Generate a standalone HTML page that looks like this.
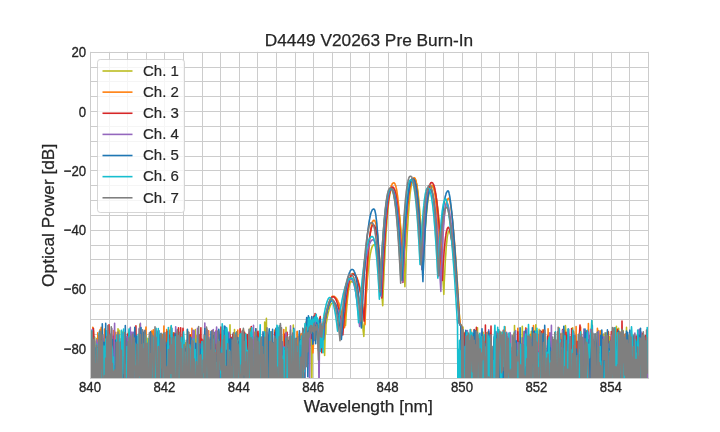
<!DOCTYPE html>
<html><head><meta charset="utf-8"><style>
html,body{margin:0;padding:0;background:#fff;}
svg{display:block;will-change:transform;font-family:"Liberation Sans",sans-serif;}
</style></head><body>
<svg width="720" height="432" viewBox="0 0 720 432">
<rect x="0" y="0" width="720" height="432" fill="#fff"/><path d="M90.5 51.84V378.00M109.5 51.84V378.00M127.5 51.84V378.00M146.5 51.84V378.00M164.5 51.84V378.00M183.5 51.84V378.00M202.5 51.84V378.00M220.5 51.84V378.00M239.5 51.84V378.00M257.5 51.84V378.00M276.5 51.84V378.00M295.5 51.84V378.00M313.5 51.84V378.00M332.5 51.84V378.00M350.5 51.84V378.00M369.5 51.84V378.00M388.5 51.84V378.00M406.5 51.84V378.00M425.5 51.84V378.00M443.5 51.84V378.00M462.5 51.84V378.00M481.5 51.84V378.00M499.5 51.84V378.00M518.5 51.84V378.00M536.5 51.84V378.00M555.5 51.84V378.00M574.5 51.84V378.00M592.5 51.84V378.00M611.5 51.84V378.00M629.5 51.84V378.00M648.5 51.84V378.00M90.0 52.5H648.0M90.0 67.5H648.0M90.0 81.5H648.0M90.0 96.5H648.0M90.0 111.5H648.0M90.0 126.5H648.0M90.0 141.5H648.0M90.0 156.5H648.0M90.0 170.5H648.0M90.0 185.5H648.0M90.0 200.5H648.0M90.0 215.5H648.0M90.0 230.5H648.0M90.0 245.5H648.0M90.0 259.5H648.0M90.0 274.5H648.0M90.0 289.5H648.0M90.0 304.5H648.0M90.0 319.5H648.0M90.0 334.5H648.0M90.0 348.5H648.0M90.0 363.5H648.0M90.0 378.5H648.0" stroke="#cccccc" stroke-width="1" fill="none"/><clipPath id="ax"><rect x="90.0" y="51.84" width="558.0" height="326.15999999999997"/></clipPath><g clip-path="url(#ax)"><path d="M90.0 348.0L90.6 392.0L91.1 338.8L91.7 351.8L92.2 392.0L92.8 365.8L93.4 330.6L93.9 392.0L94.5 336.8L95.0 352.1L95.6 348.6L96.2 361.6L96.7 338.6L97.3 382.3L97.8 346.4L98.4 369.5L99.0 353.7L99.5 390.4L100.1 367.3L100.6 352.0L101.2 392.0L101.8 392.0L102.3 367.0L102.9 392.0L103.4 379.0L104.0 340.9L104.6 352.3L105.1 347.3L105.7 378.0L106.2 337.6L106.8 343.9L107.4 390.3L107.9 392.0L108.5 368.3L109.0 361.7L109.6 390.8L110.2 392.0L110.7 389.2L111.3 392.0L111.8 354.7L112.4 392.0L113.0 391.6L113.5 341.5L114.1 372.7L114.6 334.9L115.2 392.0L115.8 344.9L116.3 335.6L116.9 369.4L117.4 392.0L118.0 328.8L118.6 357.4L119.1 330.4L119.7 392.0L120.2 357.0L120.8 392.0L121.4 330.9L121.9 360.8L122.5 392.0L123.0 332.0L123.6 365.8L124.2 340.6L124.7 336.3L125.3 369.6L125.8 349.4L126.4 392.0L127.0 348.8L127.5 392.0L128.1 362.8L128.6 332.2L129.2 360.4L129.8 392.0L130.3 358.0L130.9 392.0L131.4 362.3L132.0 391.7L132.6 372.5L133.1 367.2L133.7 374.1L134.2 392.0L134.8 390.6L135.4 392.0L135.9 358.0L136.5 380.3L137.0 359.1L137.6 392.0L138.2 392.0L138.7 355.6L139.3 381.4L139.8 324.4L140.4 328.8L141.0 392.0L141.5 353.6L142.1 392.0L142.6 373.8L143.2 392.0L143.8 371.5L144.3 392.0L144.9 392.0L145.4 392.0L146.0 339.1L146.6 340.7L147.1 338.3L147.7 369.7L148.2 392.0L148.8 392.0L149.4 336.3L149.9 353.3L150.5 357.0L151.0 392.0L151.6 371.7L152.2 392.0L152.7 344.6L153.3 392.0L153.8 384.4L154.4 349.5L155.0 392.0L155.5 392.0L156.1 392.0L156.6 392.0L157.2 332.8L157.8 376.3L158.3 361.5L158.9 348.8L159.4 392.0L160.0 392.0L160.6 338.0L161.1 392.0L161.7 338.3L162.2 349.5L162.8 376.7L163.4 392.0L163.9 340.1L164.5 392.0L165.0 335.6L165.6 392.0L166.2 380.0L166.7 390.5L167.3 370.8L167.8 392.0L168.4 392.0L169.0 392.0L169.5 335.4L170.1 333.1L170.6 392.0L171.2 343.0L171.8 354.3L172.3 360.5L172.9 352.3L173.4 332.7L174.0 392.0L174.6 333.4L175.1 392.0L175.7 392.0L176.2 340.4L176.8 392.0L177.4 350.9L177.9 392.0L178.5 392.0L179.0 344.9L179.6 332.6L180.2 388.4L180.7 346.0L181.3 355.7L181.8 343.8L182.4 392.0L183.0 354.2L183.5 378.5L184.1 356.8L184.6 361.7L185.2 353.9L185.8 342.7L186.3 392.0L186.9 392.0L187.4 329.9L188.0 348.5L188.6 337.1L189.1 392.0L189.7 392.0L190.2 341.7L190.8 337.9L191.4 350.0L191.9 361.4L192.5 392.0L193.0 385.8L193.6 367.7L194.2 367.9L194.7 356.6L195.3 329.5L195.8 384.5L196.4 335.9L197.0 392.0L197.5 392.0L198.1 340.0L198.6 369.2L199.2 350.6L199.8 392.0L200.3 349.7L200.9 353.5L201.4 389.4L202.0 349.7L202.6 372.1L203.1 390.2L203.7 368.3L204.2 392.0L204.8 372.7L205.4 347.0L205.9 392.0L206.5 362.3L207.0 392.0L207.6 340.6L208.2 392.0L208.7 366.6L209.3 392.0L209.8 356.1L210.4 346.7L211.0 374.8L211.5 389.4L212.1 347.2L212.6 392.0L213.2 339.3L213.8 392.0L214.3 392.0L214.9 392.0L215.4 336.9L216.0 392.0L216.6 386.9L217.1 392.0L217.7 392.0L218.2 344.1L218.8 392.0L219.4 378.5L219.9 369.0L220.5 346.2L221.0 343.7L221.6 378.3L222.2 334.6L222.7 372.2L223.3 392.0L223.8 377.9L224.4 392.0L225.0 392.0L225.5 352.4L226.1 370.4L226.6 366.8L227.2 377.5L227.8 336.5L228.3 358.6L228.9 337.1L229.4 365.3L230.0 324.9L230.6 381.7L231.1 337.7L231.7 367.6L232.2 368.2L232.8 355.8L233.4 344.9L233.9 392.0L234.5 329.5L235.0 392.0L235.6 364.5L236.2 356.0L236.7 392.0L237.3 356.5L237.8 392.0L238.4 392.0L239.0 372.5L239.5 348.5L240.1 359.7L240.6 353.4L241.2 351.9L241.8 392.0L242.3 367.4L242.9 392.0L243.4 329.8L244.0 334.6L244.6 392.0L245.1 351.2L245.7 339.9L246.2 385.9L246.8 392.0L247.4 363.7L247.9 384.6L248.5 354.5L249.0 338.6L249.6 392.0L250.2 328.3L250.7 392.0L251.3 341.4L251.8 342.1L252.4 392.0L253.0 392.0L253.5 392.0L254.1 332.2L254.6 342.5L255.2 392.0L255.8 347.4L256.3 392.0L256.9 392.0L257.4 366.4L258.0 334.5L258.6 346.9L259.1 337.0L259.7 359.6L260.2 392.0L260.8 392.0L261.4 354.1L261.9 349.6L262.5 377.8L263.0 366.0L263.6 392.0L264.2 392.0L264.7 322.1L265.3 392.0L265.8 350.4L266.4 318.4L267.0 390.3L267.5 392.0L268.1 346.8L268.6 392.0L269.2 348.6L269.8 392.0L270.3 346.8L270.9 392.0L271.4 346.2L272.0 344.4L272.6 392.0L273.1 372.6L273.7 373.1L274.2 392.0L274.8 365.4L275.4 392.0L275.9 367.5L276.5 374.0L277.0 327.7L277.6 361.3L278.2 368.6L278.7 361.3L279.3 353.7L279.8 360.9L280.4 387.1L281.0 392.0L281.5 341.7L282.1 392.0L282.6 392.0L283.2 387.3L283.8 392.0L284.3 392.0L284.9 356.8L285.4 392.0L286.0 327.2L286.6 378.2L287.1 365.7L287.7 372.5L288.2 341.8L288.8 358.2L289.4 392.0L289.9 392.0L290.5 392.0L291.0 356.0L291.6 367.6L292.2 337.6L292.7 372.3L293.3 325.1L293.8 354.9L294.4 346.4L295.0 392.0L295.5 392.0L296.1 351.3L296.6 392.0L297.2 331.8L297.8 392.0L298.3 361.1L298.9 392.0L299.4 358.1L300.0 342.1L300.6 336.8L301.1 392.0L301.7 392.0L302.2 392.0L302.8 335.8L303.4 357.3L303.9 335.1L304.5 339.5L305.0 330.4L305.6 343.9L306.2 345.1L306.7 333.5L307.3 329.4L307.8 326.3L308.4 321.0L309.0 334.6L309.5 324.1L310.1 339.1L310.6 345.7L311.2 330.8L311.8 392.0L312.3 322.5L312.9 325.8L313.4 326.5L314.0 325.6L314.6 329.2L315.1 326.2L315.7 339.9L316.2 331.0L316.8 327.0L317.4 326.3L317.9 321.3L318.5 324.9L319.0 330.8L319.6 319.1L320.2 321.3L320.7 343.3L321.3 326.2L321.8 326.7L322.4 330.8L323.0 328.6L323.5 337.5L324.1 331.0L324.6 355.5L325.2 332.2L325.8 333.8L326.0 324.6L326.2 323.1L326.5 321.5L326.8 320.1L327.0 318.7L327.2 317.3L327.5 316.0L327.8 314.8L328.0 313.6L328.2 312.4L328.5 311.4L328.8 310.4L329.0 309.4L329.2 308.5L329.5 307.7L329.8 306.9L330.0 306.2L330.2 305.6L330.5 305.0L330.8 304.5L331.0 304.1L331.2 303.8L331.5 303.5L331.8 303.3L332.0 303.3L332.2 303.3L332.5 303.3L332.8 303.3L333.0 303.3L333.2 303.4L333.5 303.4L333.8 303.5L334.0 303.6L334.2 303.7L334.5 303.8L334.8 303.9L335.0 304.0L335.2 304.2L335.5 304.3L335.8 304.5L336.0 304.7L336.2 304.9L336.5 305.2L336.8 305.4L337.0 305.7L337.2 305.9L337.5 306.2L337.8 306.5L338.0 306.9L338.2 307.2L338.5 307.6L338.8 308.0L339.0 308.4L339.2 308.8L339.5 309.2L339.8 309.7L340.0 310.1L340.2 310.6L340.5 311.1L340.8 311.7L341.0 312.2L341.2 312.8L341.5 313.4L341.8 314.0L342.0 314.6L342.2 315.2L342.5 315.9L342.8 316.6L343.0 317.3L343.2 318.0L343.5 318.8L343.8 319.6L344.0 320.3L344.2 321.2L344.5 322.0L344.8 322.8L345.0 323.7L345.2 324.6L345.5 325.5L345.8 321.4L346.0 317.6L346.2 314.0L346.5 310.5L346.8 307.3L347.0 304.3L347.2 301.5L347.5 298.9L347.8 296.5L348.0 294.3L348.2 292.3L348.5 290.5L348.8 288.9L349.0 287.4L349.2 286.2L349.5 285.1L349.8 284.1L350.0 283.4L350.2 282.7L350.5 282.3L350.8 281.9L351.0 281.7L351.2 281.6L351.4 281.6L351.5 281.6L351.8 281.7L352.0 281.7L352.2 281.8L352.5 281.9L352.8 282.0L353.0 282.2L353.2 282.4L353.5 282.6L353.8 282.9L354.0 283.3L354.2 283.6L354.5 284.1L354.8 284.5L355.0 285.0L355.2 285.6L355.5 286.2L355.8 286.8L356.0 287.5L356.2 288.3L356.5 289.1L356.8 289.9L357.0 290.8L357.2 291.8L357.5 292.8L357.8 293.8L358.0 294.9L358.2 296.1L358.5 297.3L358.8 298.5L359.0 299.9L359.2 301.2L359.5 302.7L359.8 304.2L360.0 305.7L360.2 307.3L360.5 309.0L360.8 310.7L361.0 312.5L361.2 314.3L361.5 316.2L361.8 318.2L362.0 320.2L362.2 322.3L362.5 324.4L362.8 326.6L363.0 328.8L363.2 331.2L363.5 333.5L363.8 336.0L363.8 336.5L364.0 332.5L364.2 327.6L364.5 322.9L364.8 318.4L365.0 314.0L365.2 309.8L365.5 305.7L365.8 301.7L366.0 297.9L366.2 294.3L366.5 290.7L366.8 287.4L367.0 284.1L367.2 281.1L367.5 278.1L367.8 275.3L368.0 272.6L368.2 270.1L368.5 267.7L368.8 265.4L369.0 263.3L369.2 261.3L369.5 259.4L369.8 257.6L370.0 256.0L370.2 254.5L370.5 253.1L370.8 251.9L371.0 250.7L371.2 249.7L371.5 248.7L371.8 247.9L372.0 247.2L372.2 246.6L372.5 246.1L372.8 245.7L373.0 245.4L373.2 245.1L373.5 245.0L373.8 244.9L374.0 244.9L374.2 244.9L374.5 245.0L374.8 245.1L375.0 245.3L375.2 245.6L375.5 246.0L375.8 246.5L376.0 247.1L376.2 247.8L376.5 248.5L376.8 249.4L377.0 250.4L377.2 251.5L377.5 252.7L377.8 254.0L378.0 255.4L378.2 257.0L378.5 258.7L378.8 260.4L379.0 262.3L379.2 264.4L379.5 266.5L379.8 268.8L380.0 271.2L380.2 273.7L380.5 276.4L380.8 279.2L381.0 282.1L381.2 285.2L381.5 288.4L381.8 291.7L382.0 295.2L382.2 298.8L382.5 302.6L382.7 305.7L382.8 304.3L383.0 297.7L383.2 291.3L383.5 285.2L383.8 279.2L384.0 273.5L384.2 267.9L384.5 262.6L384.8 257.5L385.0 252.6L385.2 247.8L385.5 243.3L385.8 239.0L386.0 234.8L386.2 230.9L386.5 227.2L386.8 223.6L387.0 220.2L387.2 217.1L387.5 214.1L387.8 211.3L388.0 208.6L388.2 206.2L388.5 203.9L388.8 201.8L389.0 199.8L389.2 198.0L389.5 196.4L389.8 195.0L390.0 193.7L390.2 192.5L390.5 191.5L390.8 190.7L391.0 190.0L391.2 189.4L391.5 188.9L391.8 188.6L392.0 188.4L392.2 188.3L392.5 188.2L392.8 188.2L393.0 188.3L393.2 188.4L393.5 188.6L393.8 188.8L394.0 189.1L394.2 189.4L394.5 189.9L394.8 190.3L395.0 190.9L395.2 191.6L395.5 192.3L395.8 193.1L396.0 194.0L396.2 194.9L396.5 196.0L396.8 197.1L397.0 198.3L397.2 199.6L397.5 201.0L397.8 202.5L398.0 204.0L398.2 205.7L398.5 207.5L398.8 209.3L399.0 211.3L399.2 213.3L399.5 215.4L399.8 217.7L400.0 220.0L400.2 222.4L400.5 225.0L400.8 227.6L401.0 230.3L401.2 233.2L401.5 236.1L401.8 239.1L402.0 242.3L402.2 245.5L402.5 248.9L402.8 252.4L403.0 255.9L403.2 259.6L403.5 263.4L403.8 267.3L404.0 271.3L404.2 275.4L404.5 279.7L404.8 284.0L404.9 286.7L405.0 284.0L405.2 277.5L405.5 271.2L405.8 265.2L406.0 259.4L406.2 253.8L406.5 248.4L406.8 243.2L407.0 238.3L407.2 233.6L407.5 229.1L407.8 224.8L408.0 220.7L408.2 216.8L408.5 213.1L408.8 209.6L409.0 206.4L409.2 203.3L409.5 200.4L409.8 197.7L410.0 195.2L410.2 192.9L410.5 190.8L410.8 188.9L411.0 187.1L411.2 185.5L411.5 184.1L411.8 182.8L412.0 181.7L412.2 180.8L412.5 180.0L412.8 179.4L413.0 178.9L413.2 178.5L413.5 178.3L413.8 178.2L414.0 178.2L414.2 178.2L414.5 178.3L414.8 178.5L415.0 178.8L415.2 179.2L415.5 179.8L415.8 180.4L416.0 181.2L416.2 182.1L416.5 183.2L416.8 184.4L417.0 185.8L417.2 187.3L417.5 188.9L417.8 190.7L418.0 192.7L418.2 194.8L418.5 197.1L418.8 199.6L419.0 202.2L419.2 205.0L419.5 207.9L419.8 211.0L420.0 214.4L420.2 217.8L420.5 221.5L420.8 225.3L421.0 229.4L421.2 233.6L421.5 238.0L421.8 242.5L422.0 247.3L422.2 252.3L422.5 257.4L422.8 262.8L423.0 268.3L423.2 263.3L423.5 258.5L423.8 253.8L424.0 249.3L424.2 245.0L424.5 240.9L424.8 236.9L425.0 233.1L425.2 229.4L425.5 226.0L425.8 222.6L426.0 219.5L426.2 216.5L426.5 213.7L426.8 211.0L427.0 208.5L427.2 206.1L427.5 203.9L427.8 201.8L428.0 199.9L428.2 198.1L428.5 196.5L428.8 195.0L429.0 193.6L429.2 192.4L429.5 191.3L429.8 190.4L430.0 189.5L430.2 188.8L430.5 188.2L430.8 187.7L431.0 187.3L431.2 187.1L431.5 186.9L431.8 186.8L432.0 186.8L432.2 186.8L432.5 186.8L432.8 187.0L433.0 187.2L433.2 187.4L433.5 187.8L433.8 188.2L434.0 188.7L434.2 189.3L434.5 190.0L434.8 190.8L435.0 191.7L435.2 192.7L435.5 193.7L435.8 194.9L436.0 196.2L436.2 197.6L436.5 199.1L436.8 200.6L437.0 202.3L437.2 204.2L437.5 206.1L437.8 208.1L438.0 210.3L438.2 212.5L438.5 214.9L438.8 217.4L439.0 220.0L439.2 222.7L439.5 225.6L439.8 228.5L440.0 231.6L440.2 234.9L440.5 238.2L440.8 241.7L441.0 245.3L441.2 249.0L441.5 252.8L441.8 256.8L442.0 260.9L442.2 265.2L442.5 269.5L442.8 274.0L443.0 278.7L443.2 283.4L443.5 288.3L443.8 293.4L443.8 294.4L444.0 289.2L444.2 283.1L444.5 277.4L444.8 272.0L445.0 267.0L445.2 262.3L445.5 258.0L445.8 254.1L446.0 250.5L446.2 247.2L446.5 244.3L446.8 241.7L447.0 239.3L447.2 237.3L447.5 235.6L447.8 234.2L448.0 233.1L448.2 232.2L448.5 231.6L448.8 231.2L449.0 231.0L449.2 230.9L449.2 230.9L449.5 231.2L449.8 231.7L450.0 232.4L450.2 233.1L450.5 234.0L450.8 235.1L451.0 236.2L451.2 237.4L451.5 238.7L451.8 240.1L452.0 241.6L452.2 243.1L452.5 244.8L452.8 246.5L453.0 248.3L453.2 250.1L453.5 252.1L453.8 254.1L454.0 256.1L454.2 258.3L454.5 260.5L454.8 262.7L455.0 265.0L455.2 267.4L455.5 269.9L455.8 272.4L456.0 274.9L456.2 277.5L456.5 280.2L456.8 282.9L457.0 285.7L457.2 288.6L457.5 291.4L457.8 294.4L458.0 297.4L458.2 300.4L458.5 303.5L458.8 306.7L459.0 309.9L459.2 313.1L459.5 316.4L459.8 319.8L460.0 323.1L460.2 323.6L460.5 324.1L460.8 324.6L461.0 325.1L461.2 325.6L461.5 326.1L461.8 333.4L462.4 392.0L463.0 327.1L463.5 356.5L464.1 392.0L464.6 356.8L465.2 343.9L465.8 368.7L466.3 357.1L466.9 351.0L467.4 343.7L468.0 338.5L468.6 333.8L469.1 392.0L469.7 392.0L470.2 392.0L470.8 392.0L471.4 392.0L471.9 344.7L472.5 392.0L473.0 392.0L473.6 392.0L474.2 345.9L474.7 389.1L475.3 387.6L475.8 371.3L476.4 329.9L477.0 392.0L477.5 327.7L478.1 392.0L478.6 392.0L479.2 356.1L479.8 390.1L480.3 348.4L480.9 353.2L481.4 385.9L482.0 392.0L482.6 392.0L483.1 332.2L483.7 392.0L484.2 347.6L484.8 392.0L485.4 392.0L485.9 332.9L486.5 392.0L487.0 392.0L487.6 392.0L488.2 392.0L488.7 336.3L489.3 392.0L489.8 367.3L490.4 346.1L491.0 362.5L491.5 346.3L492.1 392.0L492.6 360.5L493.2 379.1L493.8 342.3L494.3 392.0L494.9 368.1L495.4 343.7L496.0 346.3L496.6 392.0L497.1 356.2L497.7 365.7L498.2 392.0L498.8 362.0L499.4 349.5L499.9 356.5L500.5 392.0L501.0 332.2L501.6 336.1L502.2 392.0L502.7 392.0L503.3 345.2L503.8 390.2L504.4 382.9L505.0 392.0L505.5 339.6L506.1 392.0L506.6 356.3L507.2 392.0L507.8 392.0L508.3 355.6L508.9 392.0L509.4 392.0L510.0 392.0L510.6 392.0L511.1 351.2L511.7 366.5L512.2 367.8L512.8 392.0L513.4 369.2L513.9 392.0L514.5 325.5L515.0 392.0L515.6 368.9L516.2 392.0L516.7 392.0L517.3 392.0L517.8 343.6L518.4 392.0L519.0 387.0L519.5 392.0L520.1 341.4L520.6 345.1L521.2 363.0L521.8 363.3L522.3 326.2L522.9 347.0L523.4 392.0L524.0 352.6L524.6 368.9L525.1 377.5L525.7 340.0L526.2 392.0L526.8 347.1L527.4 392.0L527.9 359.5L528.5 392.0L529.0 363.1L529.6 386.0L530.2 335.3L530.7 347.9L531.3 331.2L531.8 389.9L532.4 335.1L533.0 392.0L533.5 365.8L534.1 382.1L534.6 392.0L535.2 359.8L535.8 324.8L536.3 372.3L536.9 376.9L537.4 392.0L538.0 360.0L538.6 352.7L539.1 329.4L539.7 349.3L540.2 334.7L540.8 390.8L541.4 392.0L541.9 392.0L542.5 367.6L543.0 349.0L543.6 392.0L544.2 354.2L544.7 392.0L545.3 392.0L545.8 392.0L546.4 358.8L547.0 359.2L547.5 392.0L548.1 360.2L548.6 392.0L549.2 335.6L549.8 392.0L550.3 352.2L550.9 392.0L551.4 365.8L552.0 343.3L552.6 392.0L553.1 341.5L553.7 343.0L554.2 392.0L554.8 392.0L555.4 392.0L555.9 367.5L556.5 392.0L557.0 340.0L557.6 376.5L558.2 354.8L558.7 392.0L559.3 328.1L559.8 347.4L560.4 348.3L561.0 351.3L561.5 346.3L562.1 333.4L562.6 340.6L563.2 392.0L563.8 333.2L564.3 364.2L564.9 343.2L565.4 325.5L566.0 334.4L566.6 392.0L567.1 351.1L567.7 392.0L568.2 356.5L568.8 392.0L569.4 365.4L569.9 336.7L570.5 392.0L571.0 392.0L571.6 392.0L572.2 361.3L572.7 327.8L573.3 390.9L573.8 331.9L574.4 363.9L575.0 356.4L575.5 392.0L576.1 366.0L576.6 392.0L577.2 354.1L577.8 369.5L578.3 347.7L578.9 392.0L579.4 333.6L580.0 392.0L580.6 331.4L581.1 388.3L581.7 354.9L582.2 344.2L582.8 340.7L583.4 358.7L583.9 352.3L584.5 392.0L585.0 342.5L585.6 392.0L586.2 356.0L586.7 392.0L587.3 358.3L587.8 336.7L588.4 338.5L589.0 367.0L589.5 359.4L590.1 364.3L590.6 357.3L591.2 331.9L591.8 321.0L592.3 380.3L592.9 392.0L593.4 392.0L594.0 358.4L594.6 342.1L595.1 389.3L595.7 392.0L596.2 392.0L596.8 392.0L597.4 361.0L597.9 391.7L598.5 330.6L599.0 386.6L599.6 366.8L600.2 354.0L600.7 341.5L601.3 359.5L601.8 384.5L602.4 392.0L603.0 371.1L603.5 334.1L604.1 340.7L604.6 392.0L605.2 392.0L605.8 365.4L606.3 386.6L606.9 332.7L607.4 392.0L608.0 391.7L608.6 332.0L609.1 392.0L609.7 336.9L610.2 392.0L610.8 344.7L611.4 392.0L611.9 384.6L612.5 354.3L613.0 346.9L613.6 392.0L614.2 361.0L614.7 345.8L615.3 334.6L615.8 350.0L616.4 326.2L617.0 338.6L617.5 392.0L618.1 376.9L618.6 328.3L619.2 356.8L619.8 345.6L620.3 392.0L620.9 361.4L621.4 392.0L622.0 392.0L622.6 378.4L623.1 330.5L623.7 392.0L624.2 392.0L624.8 392.0L625.4 349.8L625.9 392.0L626.5 327.4L627.0 376.2L627.6 343.3L628.2 392.0L628.7 335.8L629.3 392.0L629.8 335.8L630.4 348.8L631.0 352.1L631.5 392.0L632.1 341.3L632.6 344.5L633.2 387.4L633.8 351.8L634.3 365.4L634.9 370.1L635.4 351.2L636.0 389.3L636.6 392.0L637.1 358.5L637.7 347.8L638.2 392.0L638.8 392.0L639.4 392.0L639.9 363.3L640.5 348.3L641.0 345.8L641.6 392.0L642.2 371.8L642.7 392.0L643.3 339.8L643.8 357.2L644.4 342.2L645.0 378.7L645.5 372.7L646.1 352.8L646.6 359.4L647.2 330.9L647.8 359.6" stroke="#bcbd22" stroke-width="1.6" fill="none" stroke-linejoin="round" stroke-linecap="round"/><path d="M90.0 356.6L90.6 338.2L91.1 392.0L91.7 341.6L92.2 392.0L92.8 327.4L93.4 342.8L93.9 366.3L94.5 341.0L95.0 392.0L95.6 350.1L96.2 392.0L96.7 341.2L97.3 392.0L97.8 332.8L98.4 392.0L99.0 339.4L99.5 346.1L100.1 329.6L100.6 365.4L101.2 327.4L101.8 343.7L102.3 392.0L102.9 392.0L103.4 392.0L104.0 392.0L104.6 329.0L105.1 392.0L105.7 387.4L106.2 345.6L106.8 384.6L107.4 354.4L107.9 392.0L108.5 392.0L109.0 357.0L109.6 380.7L110.2 345.5L110.7 392.0L111.3 370.7L111.8 358.5L112.4 363.3L113.0 363.0L113.5 330.5L114.1 335.3L114.6 349.6L115.2 379.0L115.8 332.2L116.3 392.0L116.9 392.0L117.4 384.0L118.0 352.4L118.6 336.8L119.1 334.3L119.7 392.0L120.2 359.0L120.8 392.0L121.4 364.7L121.9 364.7L122.5 392.0L123.0 342.1L123.6 366.5L124.2 355.0L124.7 392.0L125.3 370.2L125.8 349.3L126.4 352.8L127.0 392.0L127.5 392.0L128.1 392.0L128.6 356.4L129.2 357.8L129.8 338.3L130.3 353.3L130.9 392.0L131.4 392.0L132.0 392.0L132.6 392.0L133.1 371.9L133.7 340.9L134.2 339.9L134.8 392.0L135.4 392.0L135.9 392.0L136.5 392.0L137.0 392.0L137.6 388.9L138.2 369.0L138.7 378.8L139.3 341.5L139.8 389.3L140.4 392.0L141.0 392.0L141.5 356.0L142.1 392.0L142.6 375.3L143.2 374.5L143.8 334.1L144.3 392.0L144.9 392.0L145.4 336.2L146.0 327.0L146.6 392.0L147.1 366.1L147.7 361.0L148.2 343.2L148.8 367.8L149.4 340.0L149.9 371.4L150.5 358.1L151.0 392.0L151.6 331.1L152.2 392.0L152.7 334.3L153.3 329.8L153.8 338.3L154.4 360.7L155.0 392.0L155.5 358.7L156.1 338.4L156.6 350.6L157.2 363.8L157.8 350.6L158.3 356.3L158.9 390.3L159.4 381.4L160.0 363.1L160.6 392.0L161.1 366.4L161.7 385.4L162.2 334.5L162.8 382.8L163.4 378.5L163.9 326.0L164.5 392.0L165.0 358.3L165.6 392.0L166.2 391.5L166.7 329.5L167.3 362.0L167.8 392.0L168.4 374.2L169.0 376.9L169.5 330.2L170.1 392.0L170.6 327.0L171.2 392.0L171.8 334.5L172.3 392.0L172.9 337.4L173.4 392.0L174.0 355.8L174.6 392.0L175.1 392.0L175.7 392.0L176.2 333.9L176.8 392.0L177.4 372.6L177.9 392.0L178.5 344.0L179.0 392.0L179.6 392.0L180.2 390.5L180.7 357.0L181.3 392.0L181.8 366.0L182.4 392.0L183.0 392.0L183.5 379.3L184.1 392.0L184.6 392.0L185.2 392.0L185.8 392.0L186.3 365.3L186.9 392.0L187.4 392.0L188.0 357.5L188.6 392.0L189.1 367.4L189.7 337.8L190.2 379.2L190.8 340.7L191.4 392.0L191.9 328.3L192.5 341.7L193.0 365.8L193.6 392.0L194.2 365.3L194.7 392.0L195.3 361.8L195.8 360.5L196.4 352.9L197.0 348.1L197.5 346.6L198.1 392.0L198.6 392.0L199.2 392.0L199.8 370.3L200.3 392.0L200.9 342.3L201.4 387.3L202.0 356.0L202.6 380.8L203.1 357.7L203.7 355.9L204.2 339.5L204.8 392.0L205.4 392.0L205.9 359.7L206.5 353.3L207.0 329.3L207.6 392.0L208.2 343.0L208.7 330.7L209.3 377.1L209.8 385.4L210.4 371.2L211.0 392.0L211.5 337.5L212.1 339.0L212.6 362.6L213.2 354.1L213.8 392.0L214.3 392.0L214.9 392.0L215.4 358.9L216.0 330.8L216.6 339.6L217.1 392.0L217.7 335.7L218.2 345.8L218.8 332.2L219.4 392.0L219.9 344.6L220.5 392.0L221.0 392.0L221.6 342.8L222.2 390.1L222.7 364.4L223.3 359.6L223.8 392.0L224.4 392.0L225.0 384.0L225.5 349.5L226.1 359.8L226.6 334.4L227.2 360.4L227.8 361.3L228.3 350.0L228.9 392.0L229.4 392.0L230.0 342.1L230.6 370.7L231.1 354.1L231.7 380.2L232.2 364.6L232.8 392.0L233.4 392.0L233.9 392.0L234.5 332.9L235.0 392.0L235.6 392.0L236.2 357.3L236.7 356.8L237.3 348.9L237.8 330.0L238.4 366.0L239.0 392.0L239.5 364.4L240.1 380.9L240.6 349.5L241.2 344.7L241.8 392.0L242.3 381.7L242.9 392.0L243.4 329.8L244.0 356.7L244.6 363.9L245.1 392.0L245.7 333.8L246.2 345.7L246.8 392.0L247.4 348.9L247.9 365.0L248.5 345.0L249.0 355.4L249.6 392.0L250.2 360.1L250.7 360.8L251.3 392.0L251.8 392.0L252.4 392.0L253.0 345.2L253.5 332.2L254.1 392.0L254.6 352.4L255.2 336.7L255.8 328.8L256.3 392.0L256.9 392.0L257.4 392.0L258.0 333.3L258.6 361.7L259.1 392.0L259.7 392.0L260.2 346.1L260.8 392.0L261.4 355.4L261.9 392.0L262.5 392.0L263.0 388.2L263.6 352.3L264.2 389.4L264.7 340.0L265.3 331.8L265.8 355.6L266.4 392.0L267.0 377.2L267.5 337.7L268.1 350.6L268.6 392.0L269.2 350.6L269.8 369.0L270.3 352.8L270.9 375.2L271.4 339.2L272.0 392.0L272.6 392.0L273.1 392.0L273.7 392.0L274.2 392.0L274.8 330.1L275.4 385.3L275.9 392.0L276.5 392.0L277.0 358.9L277.6 339.5L278.2 383.6L278.7 367.3L279.3 360.6L279.8 392.0L280.4 357.3L281.0 392.0L281.5 392.0L282.1 392.0L282.6 376.9L283.2 392.0L283.8 329.6L284.3 366.0L284.9 341.0L285.4 338.8L286.0 355.2L286.6 356.9L287.1 392.0L287.7 368.6L288.2 348.8L288.8 377.5L289.4 357.4L289.9 359.5L290.5 392.0L291.0 342.0L291.6 392.0L292.2 392.0L292.7 388.9L293.3 392.0L293.8 370.0L294.4 358.6L295.0 392.0L295.5 369.3L296.1 346.7L296.6 377.8L297.2 331.4L297.8 389.5L298.3 350.5L298.9 392.0L299.4 350.4L300.0 374.7L300.6 336.9L301.1 333.6L301.7 366.9L302.2 345.3L302.8 356.3L303.4 373.5L303.9 392.0L304.5 334.9L305.0 325.2L305.6 336.6L306.2 322.0L306.7 323.4L307.3 325.9L307.8 342.8L308.4 325.8L309.0 329.9L309.5 328.7L310.1 321.9L310.6 324.1L311.2 320.3L311.8 323.9L312.3 327.0L312.9 352.9L313.4 345.7L314.0 327.7L314.6 330.0L315.1 320.9L315.7 320.4L316.2 328.5L316.8 322.9L317.4 328.0L317.9 338.9L318.5 350.4L319.0 332.4L319.6 327.5L320.2 334.9L320.7 330.9L321.3 332.5L321.8 336.0L322.4 323.4L323.0 328.8L323.5 327.1L324.1 326.6L324.6 314.8L325.0 321.7L325.2 320.2L325.5 318.8L325.8 317.4L326.0 316.1L326.2 314.8L326.5 313.5L326.8 312.3L327.0 311.1L327.2 310.0L327.5 308.9L327.8 307.8L328.0 306.8L328.2 305.8L328.5 304.9L328.8 304.0L329.0 303.2L329.2 302.3L329.5 301.6L329.8 300.9L330.0 300.2L330.2 299.6L330.5 299.0L330.8 298.5L331.0 298.0L331.2 297.6L331.5 297.2L331.8 296.9L332.0 296.6L332.2 296.4L332.5 296.2L332.8 296.2L332.8 296.2L333.0 296.2L333.2 296.2L333.5 296.2L333.8 296.3L334.0 296.4L334.2 296.4L334.5 296.6L334.8 296.7L335.0 296.9L335.2 297.1L335.5 297.3L335.8 297.6L336.0 297.9L336.2 298.2L336.5 298.5L336.8 298.9L337.0 299.3L337.2 299.7L337.5 300.2L337.8 300.7L338.0 301.2L338.2 301.8L338.5 302.4L338.8 303.0L339.0 303.7L339.2 304.4L339.5 305.1L339.8 305.9L340.0 306.7L340.2 307.5L340.5 308.4L340.8 309.3L341.0 310.3L341.2 311.3L341.5 312.3L341.8 313.4L342.0 314.5L342.2 315.6L342.5 316.8L342.8 318.0L343.0 319.2L343.2 320.5L343.5 321.9L343.8 323.2L344.0 324.7L344.2 326.1L344.5 327.6L344.8 324.1L345.0 320.7L345.2 317.5L345.5 314.3L345.8 311.4L346.0 308.5L346.2 305.8L346.5 303.1L346.8 300.6L347.0 298.3L347.2 296.0L347.5 293.9L347.8 291.9L348.0 290.0L348.2 288.2L348.5 286.5L348.8 285.0L349.0 283.5L349.2 282.2L349.5 281.0L349.8 279.8L350.0 278.8L350.2 277.9L350.5 277.1L350.8 276.3L351.0 275.7L351.2 275.2L351.5 274.7L351.8 274.4L352.0 274.1L352.2 273.9L352.5 273.7L352.8 273.6L353.0 273.6L353.2 273.6L353.5 273.7L353.8 273.7L354.0 273.8L354.2 273.9L354.5 274.1L354.8 274.3L355.0 274.5L355.2 274.8L355.5 275.1L355.8 275.5L356.0 275.9L356.2 276.3L356.5 276.8L356.8 277.4L357.0 277.9L357.2 278.6L357.5 279.2L357.8 280.0L358.0 280.7L358.2 281.6L358.5 282.4L358.8 283.4L359.0 284.4L359.2 285.4L359.5 286.5L359.8 287.6L360.0 288.8L360.2 290.0L360.5 291.3L360.8 292.7L361.0 294.1L361.2 295.6L361.5 297.1L361.8 298.7L362.0 300.3L362.2 302.0L362.5 303.8L362.8 305.6L363.0 307.5L363.2 309.4L363.5 311.4L363.8 313.4L364.0 315.6L364.2 317.7L364.5 320.0L364.8 322.3L365.0 324.6L365.2 318.1L365.5 311.9L365.8 305.9L366.0 300.1L366.2 294.5L366.5 289.2L366.8 284.0L367.0 279.1L367.2 274.4L367.5 270.0L367.8 265.7L368.0 261.6L368.2 257.8L368.5 254.2L368.8 250.7L369.0 247.5L369.2 244.5L369.5 241.6L369.8 239.0L370.0 236.6L370.2 234.3L370.5 232.2L370.8 230.3L371.0 228.6L371.2 227.1L371.5 225.7L371.8 224.5L372.0 223.5L372.2 222.6L372.5 221.9L372.8 221.3L373.0 220.9L373.2 220.5L373.5 220.4L373.8 220.3L373.9 220.3L374.0 220.3L374.2 220.3L374.5 220.5L374.8 220.8L375.0 221.2L375.2 221.8L375.5 222.5L375.8 223.4L376.0 224.4L376.2 225.6L376.5 226.9L376.8 228.5L377.0 230.2L377.2 232.1L377.5 234.2L377.8 236.4L378.0 238.9L378.2 241.5L378.5 244.4L378.8 247.5L379.0 250.7L379.2 254.2L379.5 257.8L379.8 261.7L380.0 265.8L380.2 270.1L380.5 274.7L380.8 279.4L381.0 284.4L381.2 289.6L381.5 295.0L381.8 289.9L382.0 284.9L382.2 280.1L382.5 275.4L382.8 270.9L383.0 266.4L383.2 262.1L383.5 257.9L383.8 253.9L384.0 250.0L384.2 246.2L384.5 242.5L384.8 238.9L385.0 235.5L385.2 232.1L385.5 228.9L385.8 225.9L386.0 222.9L386.2 220.1L386.5 217.3L386.8 214.7L387.0 212.2L387.2 209.8L387.5 207.6L387.8 205.4L388.0 203.3L388.2 201.4L388.5 199.6L388.8 197.8L389.0 196.2L389.2 194.7L389.5 193.3L389.8 191.9L390.0 190.7L390.2 189.6L390.5 188.6L390.8 187.6L391.0 186.8L391.2 186.0L391.5 185.4L391.8 184.8L392.0 184.3L392.2 183.9L392.5 183.6L392.8 183.3L393.0 183.1L393.2 183.0L393.5 182.9L393.8 182.9L394.0 182.9L394.2 183.0L394.5 183.2L394.8 183.5L395.0 184.0L395.2 184.5L395.5 185.2L395.8 186.0L396.0 186.9L396.2 188.0L396.5 189.2L396.8 190.6L397.0 192.1L397.2 193.8L397.5 195.7L397.8 197.6L398.0 199.8L398.2 202.1L398.5 204.6L398.8 207.3L399.0 210.1L399.2 213.1L399.5 216.3L399.8 219.6L400.0 223.2L400.2 226.9L400.5 230.8L400.8 234.8L401.0 239.1L401.2 243.6L401.5 248.2L401.8 253.0L402.0 258.1L402.2 263.3L402.5 268.7L402.8 274.3L403.0 280.2L403.2 275.1L403.5 270.2L403.8 265.4L404.0 260.7L404.2 256.2L404.5 251.9L404.8 247.7L405.0 243.6L405.2 239.6L405.5 235.8L405.8 232.1L406.0 228.6L406.2 225.2L406.5 221.9L406.8 218.7L407.0 215.7L407.2 212.8L407.5 210.1L407.8 207.4L408.0 204.9L408.2 202.5L408.5 200.2L408.8 198.1L409.0 196.1L409.2 194.1L409.5 192.4L409.8 190.7L410.0 189.1L410.2 187.7L410.5 186.3L410.8 185.1L411.0 184.0L411.2 182.9L411.5 182.0L411.8 181.2L412.0 180.5L412.2 179.9L412.5 179.3L412.8 178.9L413.0 178.5L413.2 178.3L413.5 178.1L413.8 177.9L414.0 177.9L414.2 177.9L414.2 177.9L414.5 177.9L414.8 178.1L415.0 178.4L415.2 178.9L415.5 179.5L415.8 180.3L416.0 181.2L416.2 182.4L416.5 183.7L416.8 185.3L417.0 187.0L417.2 188.9L417.5 191.1L417.8 193.4L418.0 196.0L418.2 198.8L418.5 201.8L418.8 205.1L419.0 208.6L419.2 212.3L419.5 216.3L419.8 220.5L420.0 224.9L420.2 229.6L420.5 234.5L420.8 239.7L421.0 245.1L421.2 250.8L421.5 256.8L421.8 263.0L422.0 269.5L422.2 264.8L422.5 260.3L422.8 255.9L423.0 251.7L423.2 247.6L423.5 243.7L423.8 239.9L424.0 236.2L424.2 232.7L424.5 229.3L424.8 226.1L425.0 223.0L425.2 220.0L425.5 217.2L425.8 214.5L426.0 211.9L426.2 209.5L426.5 207.2L426.8 205.0L427.0 203.0L427.2 201.0L427.5 199.2L427.8 197.6L428.0 196.0L428.2 194.5L428.5 193.2L428.8 192.0L429.0 190.9L429.2 189.9L429.5 189.0L429.8 188.2L430.0 187.5L430.2 186.9L430.5 186.4L430.8 186.1L431.0 185.7L431.2 185.5L431.5 185.4L431.8 185.3L432.0 185.3L432.2 185.3L432.5 185.4L432.8 185.7L433.0 186.1L433.2 186.7L433.5 187.4L433.8 188.2L434.0 189.3L434.2 190.5L434.5 191.9L434.8 193.5L435.0 195.2L435.2 197.2L435.5 199.3L435.8 201.7L436.0 204.3L436.2 207.1L436.5 210.0L436.8 213.3L437.0 216.7L437.2 220.3L437.5 224.2L437.8 228.3L438.0 232.6L438.2 237.2L438.5 242.0L438.8 247.0L439.0 252.2L439.2 257.7L439.5 263.5L439.8 269.5L440.0 275.7L440.2 270.8L440.5 266.2L440.8 261.6L441.0 257.3L441.2 253.1L441.5 249.1L441.8 245.3L442.0 241.6L442.2 238.1L442.5 234.8L442.8 231.6L443.0 228.6L443.2 225.7L443.5 223.0L443.8 220.5L444.0 218.1L444.2 215.9L444.5 213.8L444.8 211.8L445.0 210.0L445.2 208.4L445.5 206.8L445.8 205.4L446.0 204.2L446.2 203.1L446.5 202.1L446.8 201.2L447.0 200.5L447.2 199.9L447.5 199.4L447.8 199.0L448.0 198.7L448.2 198.5L448.5 198.4L448.8 198.3L448.8 198.3L449.0 198.5L449.2 199.1L449.5 199.8L449.8 200.8L450.0 201.9L450.2 203.2L450.5 204.6L450.8 206.2L451.0 207.8L451.2 209.6L451.5 211.5L451.8 213.5L452.0 215.6L452.2 217.8L452.5 220.2L452.8 222.6L453.0 225.1L453.2 227.7L453.5 230.3L453.8 233.1L454.0 236.0L454.2 238.9L454.5 241.9L454.8 245.0L455.0 248.2L455.2 251.5L455.5 254.8L455.8 258.2L456.0 261.7L456.2 265.2L456.5 268.9L456.8 272.6L457.0 276.3L457.2 280.2L457.5 284.1L457.8 288.1L458.0 292.1L458.2 296.2L458.5 300.4L458.8 304.6L459.0 308.9L459.2 313.3L459.5 317.7L459.8 322.2L459.8 323.1L460.0 323.5L460.2 323.9L460.5 324.4L460.8 324.8L461.0 325.2L461.2 325.7L461.5 326.1L461.8 330.7L462.4 367.6L463.0 357.1L463.5 392.0L464.1 335.1L464.6 352.8L465.2 332.1L465.8 342.0L466.3 369.7L466.9 392.0L467.4 392.0L468.0 392.0L468.6 355.3L469.1 378.8L469.7 342.9L470.2 355.6L470.8 329.6L471.4 392.0L471.9 340.6L472.5 392.0L473.0 368.4L473.6 334.3L474.2 343.8L474.7 349.8L475.3 387.8L475.8 392.0L476.4 347.9L477.0 362.8L477.5 392.0L478.1 335.7L478.6 357.6L479.2 392.0L479.8 392.0L480.3 392.0L480.9 387.8L481.4 349.0L482.0 379.7L482.6 392.0L483.1 372.7L483.7 392.0L484.2 356.3L484.8 358.2L485.4 367.1L485.9 381.7L486.5 392.0L487.0 392.0L487.6 332.3L488.2 392.0L488.7 335.4L489.3 389.5L489.8 392.0L490.4 392.0L491.0 369.8L491.5 392.0L492.1 353.1L492.6 374.0L493.2 392.0L493.8 350.3L494.3 392.0L494.9 349.4L495.4 338.4L496.0 349.9L496.6 351.0L497.1 392.0L497.7 383.8L498.2 361.4L498.8 392.0L499.4 366.5L499.9 372.9L500.5 391.7L501.0 332.8L501.6 385.8L502.2 392.0L502.7 359.4L503.3 357.6L503.8 392.0L504.4 332.5L505.0 326.9L505.5 392.0L506.1 392.0L506.6 357.1L507.2 350.6L507.8 392.0L508.3 359.1L508.9 343.0L509.4 350.8L510.0 392.0L510.6 392.0L511.1 392.0L511.7 392.0L512.2 347.3L512.8 392.0L513.4 350.1L513.9 333.9L514.5 392.0L515.0 392.0L515.6 372.4L516.2 392.0L516.7 369.4L517.3 392.0L517.8 328.2L518.4 384.6L519.0 392.0L519.5 369.0L520.1 349.3L520.6 356.6L521.2 368.8L521.8 392.0L522.3 392.0L522.9 383.2L523.4 355.3L524.0 392.0L524.6 347.6L525.1 392.0L525.7 327.9L526.2 370.0L526.8 359.2L527.4 392.0L527.9 392.0L528.5 392.0L529.0 335.3L529.6 392.0L530.2 334.2L530.7 392.0L531.3 362.0L531.8 392.0L532.4 338.6L533.0 356.4L533.5 325.6L534.1 340.9L534.6 338.6L535.2 338.6L535.8 363.0L536.3 335.6L536.9 381.6L537.4 375.0L538.0 356.0L538.6 367.7L539.1 334.5L539.7 350.1L540.2 371.9L540.8 392.0L541.4 353.8L541.9 392.0L542.5 330.1L543.0 363.7L543.6 341.6L544.2 392.0L544.7 392.0L545.3 392.0L545.8 359.7L546.4 389.3L547.0 392.0L547.5 392.0L548.1 328.7L548.6 373.2L549.2 358.9L549.8 345.4L550.3 350.8L550.9 392.0L551.4 369.8L552.0 392.0L552.6 392.0L553.1 383.8L553.7 392.0L554.2 389.2L554.8 361.1L555.4 362.2L555.9 392.0L556.5 361.4L557.0 392.0L557.6 331.9L558.2 392.0L558.7 392.0L559.3 392.0L559.8 354.7L560.4 392.0L561.0 392.0L561.5 392.0L562.1 381.9L562.6 362.8L563.2 392.0L563.8 392.0L564.3 386.1L564.9 330.3L565.4 392.0L566.0 392.0L566.6 367.9L567.1 392.0L567.7 392.0L568.2 353.6L568.8 392.0L569.4 379.8L569.9 392.0L570.5 346.7L571.0 392.0L571.6 366.4L572.2 392.0L572.7 357.6L573.3 336.9L573.8 359.6L574.4 392.0L575.0 336.5L575.5 392.0L576.1 326.5L576.6 392.0L577.2 392.0L577.8 392.0L578.3 392.0L578.9 392.0L579.4 342.9L580.0 345.3L580.6 327.0L581.1 392.0L581.7 366.7L582.2 392.0L582.8 356.0L583.4 373.8L583.9 332.4L584.5 371.4L585.0 347.3L585.6 379.9L586.2 341.0L586.7 335.8L587.3 383.8L587.8 370.0L588.4 323.5L589.0 374.7L589.5 354.4L590.1 362.2L590.6 375.5L591.2 332.7L591.8 392.0L592.3 351.7L592.9 347.4L593.4 392.0L594.0 392.0L594.6 342.1L595.1 367.1L595.7 380.6L596.2 392.0L596.8 392.0L597.4 328.3L597.9 359.6L598.5 390.5L599.0 392.0L599.6 336.8L600.2 330.7L600.7 341.6L601.3 390.4L601.8 338.8L602.4 366.8L603.0 363.1L603.5 353.9L604.1 359.3L604.6 392.0L605.2 392.0L605.8 392.0L606.3 345.5L606.9 380.2L607.4 392.0L608.0 359.3L608.6 345.4L609.1 392.0L609.7 367.2L610.2 368.9L610.8 392.0L611.4 392.0L611.9 346.4L612.5 392.0L613.0 392.0L613.6 392.0L614.2 373.4L614.7 392.0L615.3 354.2L615.8 383.8L616.4 389.1L617.0 331.7L617.5 392.0L618.1 369.7L618.6 333.7L619.2 392.0L619.8 331.9L620.3 345.5L620.9 392.0L621.4 377.4L622.0 336.4L622.6 367.7L623.1 392.0L623.7 387.0L624.2 334.6L624.8 352.0L625.4 334.0L625.9 360.6L626.5 392.0L627.0 392.0L627.6 392.0L628.2 392.0L628.7 392.0L629.3 384.3L629.8 392.0L630.4 392.0L631.0 392.0L631.5 392.0L632.1 354.8L632.6 392.0L633.2 392.0L633.8 392.0L634.3 378.2L634.9 391.2L635.4 379.6L636.0 351.9L636.6 340.5L637.1 392.0L637.7 342.8L638.2 392.0L638.8 357.0L639.4 392.0L639.9 364.9L640.5 385.9L641.0 392.0L641.6 335.0L642.2 334.2L642.7 360.6L643.3 367.7L643.8 369.2L644.4 352.8L645.0 341.8L645.5 353.1L646.1 392.0L646.6 368.7L647.2 366.1L647.8 333.3" stroke="#ff7f0e" stroke-width="1.6" fill="none" stroke-linejoin="round" stroke-linecap="round"/><path d="M90.0 382.8L90.6 337.8L91.1 357.1L91.7 343.8L92.2 330.6L92.8 392.0L93.4 328.2L93.9 338.6L94.5 383.0L95.0 392.0L95.6 355.8L96.2 360.8L96.7 369.5L97.3 392.0L97.8 392.0L98.4 387.8L99.0 392.0L99.5 385.2L100.1 365.6L100.6 339.4L101.2 384.3L101.8 345.1L102.3 367.5L102.9 338.8L103.4 356.3L104.0 389.9L104.6 373.0L105.1 347.5L105.7 392.0L106.2 338.2L106.8 362.3L107.4 342.0L107.9 347.9L108.5 353.0L109.0 324.7L109.6 392.0L110.2 358.4L110.7 357.7L111.3 358.3L111.8 379.8L112.4 392.0L113.0 336.1L113.5 392.0L114.1 380.5L114.6 371.5L115.2 371.0L115.8 369.9L116.3 392.0L116.9 392.0L117.4 380.5L118.0 347.7L118.6 362.9L119.1 376.3L119.7 392.0L120.2 367.0L120.8 392.0L121.4 338.5L121.9 381.2L122.5 336.0L123.0 345.9L123.6 362.9L124.2 354.5L124.7 392.0L125.3 392.0L125.8 338.4L126.4 339.7L127.0 350.0L127.5 334.1L128.1 360.3L128.6 334.3L129.2 344.3L129.8 392.0L130.3 334.4L130.9 351.3L131.4 362.0L132.0 392.0L132.6 392.0L133.1 392.0L133.7 392.0L134.2 385.4L134.8 392.0L135.4 361.6L135.9 325.8L136.5 392.0L137.0 392.0L137.6 360.3L138.2 362.4L138.7 350.1L139.3 392.0L139.8 392.0L140.4 338.4L141.0 352.9L141.5 352.3L142.1 370.9L142.6 392.0L143.2 392.0L143.8 352.4L144.3 347.6L144.9 345.1L145.4 392.0L146.0 353.4L146.6 392.0L147.1 392.0L147.7 381.8L148.2 368.7L148.8 392.0L149.4 367.2L149.9 358.2L150.5 371.3L151.0 374.1L151.6 392.0L152.2 392.0L152.7 337.2L153.3 392.0L153.8 338.7L154.4 351.0L155.0 346.1L155.5 392.0L156.1 388.2L156.6 349.8L157.2 335.8L157.8 385.8L158.3 367.0L158.9 335.1L159.4 346.8L160.0 371.1L160.6 388.7L161.1 369.1L161.7 392.0L162.2 392.0L162.8 392.0L163.4 392.0L163.9 368.4L164.5 367.2L165.0 343.8L165.6 347.6L166.2 386.9L166.7 392.0L167.3 331.4L167.8 392.0L168.4 331.8L169.0 388.1L169.5 335.4L170.1 392.0L170.6 378.7L171.2 380.7L171.8 366.4L172.3 392.0L172.9 385.0L173.4 392.0L174.0 333.1L174.6 392.0L175.1 369.5L175.7 392.0L176.2 372.2L176.8 357.4L177.4 331.7L177.9 339.8L178.5 327.8L179.0 367.3L179.6 357.4L180.2 392.0L180.7 327.7L181.3 392.0L181.8 349.3L182.4 342.8L183.0 328.4L183.5 349.6L184.1 392.0L184.6 366.1L185.2 351.0L185.8 392.0L186.3 392.0L186.9 392.0L187.4 352.4L188.0 357.5L188.6 332.3L189.1 392.0L189.7 356.3L190.2 334.8L190.8 363.9L191.4 392.0L191.9 363.2L192.5 379.4L193.0 392.0L193.6 373.2L194.2 334.4L194.7 392.0L195.3 356.3L195.8 363.4L196.4 354.2L197.0 390.8L197.5 392.0L198.1 350.0L198.6 392.0L199.2 392.0L199.8 334.8L200.3 349.5L200.9 327.7L201.4 392.0L202.0 339.3L202.6 392.0L203.1 392.0L203.7 340.9L204.2 347.7L204.8 383.9L205.4 360.5L205.9 374.6L206.5 346.9L207.0 392.0L207.6 338.7L208.2 359.8L208.7 358.8L209.3 392.0L209.8 340.7L210.4 392.0L211.0 339.7L211.5 392.0L212.1 330.8L212.6 392.0L213.2 392.0L213.8 390.3L214.3 333.4L214.9 392.0L215.4 344.1L216.0 362.5L216.6 364.8L217.1 392.0L217.7 392.0L218.2 392.0L218.8 355.8L219.4 392.0L219.9 334.6L220.5 392.0L221.0 327.1L221.6 352.6L222.2 392.0L222.7 392.0L223.3 352.8L223.8 392.0L224.4 360.5L225.0 385.1L225.5 392.0L226.1 392.0L226.6 359.8L227.2 392.0L227.8 354.7L228.3 386.1L228.9 380.6L229.4 392.0L230.0 334.7L230.6 392.0L231.1 338.2L231.7 337.4L232.2 366.1L232.8 334.4L233.4 392.0L233.9 360.1L234.5 346.9L235.0 339.3L235.6 392.0L236.2 349.7L236.7 392.0L237.3 364.9L237.8 352.8L238.4 342.0L239.0 392.0L239.5 392.0L240.1 328.7L240.6 392.0L241.2 358.7L241.8 392.0L242.3 331.5L242.9 331.8L243.4 352.8L244.0 392.0L244.6 332.4L245.1 384.7L245.7 335.1L246.2 392.0L246.8 358.8L247.4 334.5L247.9 336.9L248.5 353.0L249.0 367.3L249.6 366.2L250.2 365.5L250.7 392.0L251.3 326.6L251.8 382.9L252.4 336.8L253.0 360.2L253.5 341.8L254.1 392.0L254.6 341.5L255.2 381.8L255.8 343.3L256.3 392.0L256.9 357.8L257.4 336.1L258.0 331.2L258.6 379.7L259.1 392.0L259.7 392.0L260.2 342.2L260.8 392.0L261.4 341.7L261.9 392.0L262.5 392.0L263.0 392.0L263.6 392.0L264.2 392.0L264.7 359.4L265.3 364.6L265.8 392.0L266.4 392.0L267.0 348.3L267.5 392.0L268.1 392.0L268.6 384.9L269.2 360.2L269.8 392.0L270.3 343.7L270.9 392.0L271.4 357.1L272.0 387.1L272.6 392.0L273.1 392.0L273.7 344.8L274.2 390.6L274.8 332.3L275.4 392.0L275.9 344.4L276.5 378.3L277.0 357.1L277.6 392.0L278.2 392.0L278.7 392.0L279.3 345.0L279.8 392.0L280.4 336.3L281.0 348.7L281.5 344.1L282.1 387.2L282.6 370.0L283.2 384.9L283.8 365.7L284.3 392.0L284.9 334.0L285.4 345.8L286.0 343.8L286.6 392.0L287.1 332.2L287.7 388.8L288.2 340.7L288.8 353.6L289.4 337.3L289.9 354.1L290.5 352.7L291.0 342.7L291.6 362.0L292.2 392.0L292.7 365.0L293.3 367.8L293.8 364.7L294.4 392.0L295.0 373.7L295.5 392.0L296.1 392.0L296.6 352.0L297.2 368.4L297.8 385.1L298.3 353.2L298.9 340.1L299.4 392.0L300.0 392.0L300.6 344.0L301.1 392.0L301.7 352.5L302.2 336.5L302.8 362.5L303.4 392.0L303.9 329.8L304.5 392.0L305.0 338.9L305.6 332.1L306.2 329.8L306.7 329.5L307.3 332.4L307.8 329.3L308.4 324.5L309.0 321.3L309.5 326.8L310.1 322.3L310.6 321.5L311.2 338.4L311.8 327.6L312.3 327.8L312.9 329.3L313.4 317.4L314.0 316.2L314.6 334.8L315.1 313.6L315.7 321.3L316.2 323.3L316.8 324.0L317.4 329.1L317.9 324.2L318.5 330.0L319.0 327.0L319.6 319.1L320.2 316.6L320.7 323.9L321.3 328.8L321.8 352.7L322.4 329.2L323.0 328.0L323.5 326.5L324.1 334.7L324.6 324.8L325.0 321.7L325.2 320.2L325.5 318.9L325.8 317.5L326.0 316.2L326.2 314.9L326.5 313.7L326.8 312.5L327.0 311.4L327.2 310.3L327.5 309.2L327.8 308.1L328.0 307.2L328.2 306.2L328.5 305.3L328.8 304.4L329.0 303.6L329.2 302.8L329.5 302.1L329.8 301.4L330.0 300.7L330.2 300.1L330.5 299.5L330.8 299.0L331.0 298.5L331.2 298.1L331.5 297.7L331.8 297.4L332.0 297.2L332.2 297.0L332.5 296.8L332.8 296.8L332.8 296.8L333.0 296.8L333.2 296.8L333.5 296.9L333.8 296.9L334.0 297.1L334.2 297.3L334.5 297.5L334.8 297.7L335.0 298.0L335.2 298.4L335.5 298.8L335.8 299.2L336.0 299.7L336.2 300.2L336.5 300.8L336.8 301.5L337.0 302.2L337.2 302.9L337.5 303.8L337.8 304.6L338.0 305.5L338.2 306.5L338.5 307.6L338.8 308.6L339.0 309.8L339.2 311.0L339.5 312.3L339.8 313.6L340.0 315.0L340.2 316.5L340.5 318.0L340.8 319.6L341.0 321.2L341.2 322.9L341.5 324.7L341.8 326.6L342.0 328.5L342.2 330.4L342.5 332.5L342.8 334.6L342.8 335.0L343.0 332.4L343.2 329.1L343.5 326.0L343.8 323.0L344.0 320.1L344.2 317.3L344.5 314.6L344.8 311.9L345.0 309.4L345.2 307.0L345.5 304.7L345.8 302.4L346.0 300.3L346.2 298.2L346.5 296.3L346.8 294.4L347.0 292.6L347.2 291.0L347.5 289.4L347.8 287.9L348.0 286.4L348.2 285.1L348.5 283.9L348.8 282.7L349.0 281.6L349.2 280.6L349.5 279.7L349.8 278.9L350.0 278.1L350.2 277.4L350.5 276.8L350.8 276.2L351.0 275.8L351.2 275.4L351.5 275.0L351.8 274.8L352.0 274.5L352.2 274.4L352.5 274.3L352.8 274.2L353.0 274.2L353.2 274.2L353.5 274.3L353.8 274.3L354.0 274.4L354.2 274.6L354.5 274.7L354.8 274.9L355.0 275.2L355.2 275.5L355.5 275.8L355.8 276.2L356.0 276.6L356.2 277.1L356.5 277.6L356.8 278.2L357.0 278.8L357.2 279.5L357.5 280.2L357.8 281.0L358.0 281.9L358.2 282.7L358.5 283.7L358.8 284.7L359.0 285.7L359.2 286.8L359.5 288.0L359.8 289.2L360.0 290.5L360.2 291.8L360.5 293.2L360.8 294.7L361.0 296.2L361.2 297.8L361.5 299.4L361.8 301.1L362.0 302.9L362.2 304.7L362.5 306.6L362.8 308.5L363.0 310.5L363.2 312.6L363.5 314.7L363.8 316.9L364.0 319.2L364.2 321.1L364.2 319.9L364.5 314.1L364.8 308.5L365.0 303.1L365.2 297.9L365.5 292.9L365.8 288.1L366.0 283.5L366.2 279.1L366.5 274.9L366.8 270.8L367.0 267.0L367.2 263.3L367.5 259.9L367.8 256.6L368.0 253.5L368.2 250.5L368.5 247.8L368.8 245.2L369.0 242.8L369.2 240.5L369.5 238.5L369.8 236.6L370.0 234.8L370.2 233.2L370.5 231.8L370.8 230.5L371.0 229.4L371.2 228.4L371.5 227.5L371.8 226.8L372.0 226.2L372.2 225.7L372.5 225.4L372.8 225.2L373.0 225.0L373.2 225.0L373.3 225.0L373.5 225.0L373.8 225.1L374.0 225.3L374.2 225.5L374.5 225.9L374.8 226.3L375.0 226.9L375.2 227.6L375.5 228.4L375.8 229.3L376.0 230.4L376.2 231.6L376.5 232.9L376.8 234.3L377.0 235.9L377.2 237.7L377.5 239.5L377.8 241.6L378.0 243.7L378.2 246.0L378.5 248.5L378.8 251.1L379.0 253.9L379.2 256.8L379.5 259.9L379.8 263.2L380.0 266.6L380.2 270.2L380.5 273.9L380.8 277.8L381.0 281.9L381.2 286.1L381.5 290.5L381.8 295.1L381.9 297.9L382.0 295.6L382.2 289.9L382.5 284.3L382.8 278.9L383.0 273.7L383.2 268.7L383.5 263.8L383.8 259.1L384.0 254.5L384.2 250.1L384.5 245.9L384.8 241.9L385.0 238.0L385.2 234.2L385.5 230.6L385.8 227.2L386.0 223.9L386.2 220.8L386.5 217.9L386.8 215.1L387.0 212.4L387.2 209.9L387.5 207.5L387.8 205.3L388.0 203.2L388.2 201.2L388.5 199.4L388.8 197.8L389.0 196.2L389.2 194.8L389.5 193.5L389.8 192.4L390.0 191.3L390.2 190.4L390.5 189.7L390.8 189.0L391.0 188.4L391.2 188.0L391.5 187.6L391.8 187.3L392.0 187.2L392.2 187.1L392.5 187.0L392.8 187.1L393.0 187.2L393.2 187.3L393.5 187.6L393.8 187.9L394.0 188.3L394.2 188.8L394.5 189.4L394.8 190.2L395.0 191.0L395.2 191.9L395.5 193.0L395.8 194.2L396.0 195.5L396.2 196.9L396.5 198.4L396.8 200.1L397.0 201.9L397.2 203.8L397.5 205.8L397.8 208.0L398.0 210.3L398.2 212.8L398.5 215.4L398.8 218.1L399.0 220.9L399.2 223.9L399.5 227.1L399.8 230.4L400.0 233.8L400.2 237.4L400.5 241.1L400.8 245.0L401.0 249.0L401.2 253.2L401.5 257.5L401.8 262.0L402.0 266.6L402.2 271.4L402.5 276.4L402.8 281.5L402.8 282.5L403.0 278.0L403.2 272.4L403.5 267.0L403.8 261.8L404.0 256.8L404.2 252.0L404.5 247.3L404.8 242.8L405.0 238.5L405.2 234.3L405.5 230.3L405.8 226.5L406.0 222.8L406.2 219.3L406.5 215.9L406.8 212.7L407.0 209.7L407.2 206.8L407.5 204.1L407.8 201.5L408.0 199.1L408.2 196.9L408.5 194.7L408.8 192.8L409.0 190.9L409.2 189.3L409.5 187.7L409.8 186.3L410.0 185.0L410.2 183.9L410.5 182.8L410.8 181.9L411.0 181.2L411.2 180.5L411.5 180.0L411.8 179.5L412.0 179.2L412.2 179.0L412.5 178.8L412.8 178.8L412.9 178.7L413.0 178.7L413.2 178.8L413.5 178.9L413.8 179.2L414.0 179.5L414.2 180.0L414.5 180.6L414.8 181.3L415.0 182.1L415.2 183.1L415.5 184.2L415.8 185.4L416.0 186.8L416.2 188.3L416.5 190.0L416.8 191.8L417.0 193.8L417.2 196.0L417.5 198.3L417.8 200.8L418.0 203.4L418.2 206.2L418.5 209.2L418.8 212.3L419.0 215.6L419.2 219.1L419.5 222.8L419.8 226.6L420.0 230.7L420.2 234.9L420.5 239.2L420.8 243.8L421.0 248.6L421.2 253.5L421.5 258.6L421.8 264.0L422.0 269.5L422.2 264.5L422.5 259.7L422.8 255.1L423.0 250.6L423.2 246.3L423.5 242.1L423.8 238.1L424.0 234.3L424.2 230.6L424.5 227.0L424.8 223.6L425.0 220.4L425.2 217.3L425.5 214.3L425.8 211.5L426.0 208.9L426.2 206.3L426.5 204.0L426.8 201.7L427.0 199.6L427.2 197.6L427.5 195.8L427.8 194.1L428.0 192.5L428.2 191.1L428.5 189.8L428.8 188.6L429.0 187.5L429.2 186.5L429.5 185.7L429.8 185.0L430.0 184.3L430.2 183.8L430.5 183.4L430.8 183.1L431.0 182.8L431.2 182.7L431.5 182.6L431.7 182.6L431.8 182.6L432.0 182.6L432.2 182.7L432.5 182.9L432.8 183.1L433.0 183.5L433.2 183.9L433.5 184.4L433.8 185.0L434.0 185.7L434.2 186.6L434.5 187.5L434.8 188.5L435.0 189.7L435.2 190.9L435.5 192.3L435.8 193.8L436.0 195.5L436.2 197.2L436.5 199.1L436.8 201.1L437.0 203.2L437.2 205.4L437.5 207.8L437.8 210.3L438.0 212.9L438.2 215.7L438.5 218.6L438.8 221.7L439.0 224.9L439.2 228.2L439.5 231.7L439.8 235.3L440.0 239.0L440.2 242.9L440.5 247.0L440.8 251.2L441.0 255.5L441.2 260.0L441.5 264.6L441.8 269.4L442.0 274.3L442.2 279.4L442.3 280.4L442.5 276.7L442.8 272.2L443.0 267.9L443.2 263.9L443.5 260.1L443.8 256.5L444.0 253.2L444.2 250.1L444.5 247.2L444.8 244.5L445.0 242.0L445.2 239.8L445.5 237.7L445.8 235.9L446.0 234.2L446.2 232.8L446.5 231.5L446.8 230.5L447.0 229.6L447.2 228.8L447.5 228.2L447.8 227.8L448.0 227.6L448.2 227.4L448.5 227.4L448.8 227.6L449.0 228.0L449.2 228.7L449.5 229.4L449.8 230.3L450.0 231.3L450.2 232.4L450.5 233.5L450.8 234.8L451.0 236.2L451.2 237.6L451.5 239.2L451.8 240.8L452.0 242.5L452.2 244.2L452.5 246.1L452.8 248.0L453.0 250.0L453.2 252.0L453.5 254.1L453.8 256.3L454.0 258.5L454.2 260.8L454.5 263.2L454.8 265.6L455.0 268.1L455.2 270.6L455.5 273.2L455.8 275.8L456.0 278.5L456.2 281.3L456.5 284.1L456.8 286.9L457.0 289.9L457.2 292.8L457.5 295.8L457.8 298.9L458.0 302.0L458.2 305.2L458.5 308.4L458.8 311.7L459.0 315.0L459.2 318.4L459.5 321.8L459.6 323.1L459.8 323.5L460.0 324.0L460.2 324.5L460.5 325.1L460.8 325.6L461.0 326.1L461.3 382.1L461.8 327.4L462.4 392.0L463.0 392.0L463.5 348.9L464.1 333.1L464.6 392.0L465.2 370.0L465.8 392.0L466.3 331.0L466.9 392.0L467.4 347.8L468.0 362.1L468.6 347.5L469.1 392.0L469.7 392.0L470.2 392.0L470.8 392.0L471.4 391.0L471.9 368.0L472.5 381.3L473.0 349.8L473.6 392.0L474.2 329.6L474.7 392.0L475.3 331.0L475.8 362.9L476.4 327.4L477.0 392.0L477.5 384.8L478.1 357.0L478.6 367.6L479.2 392.0L479.8 357.8L480.3 392.0L480.9 354.1L481.4 346.4L482.0 340.2L482.6 392.0L483.1 354.6L483.7 375.8L484.2 387.3L484.8 392.0L485.4 325.0L485.9 383.0L486.5 392.0L487.0 355.0L487.6 353.3L488.2 357.2L488.7 362.8L489.3 381.8L489.8 333.3L490.4 372.9L491.0 326.1L491.5 377.4L492.1 356.1L492.6 392.0L493.2 368.0L493.8 386.6L494.3 340.0L494.9 392.0L495.4 392.0L496.0 392.0L496.6 335.8L497.1 367.8L497.7 378.9L498.2 383.0L498.8 362.8L499.4 392.0L499.9 347.3L500.5 392.0L501.0 355.8L501.6 366.5L502.2 335.6L502.7 392.0L503.3 330.4L503.8 375.1L504.4 392.0L505.0 344.9L505.5 340.5L506.1 352.4L506.6 351.2L507.2 392.0L507.8 370.1L508.3 345.2L508.9 392.0L509.4 392.0L510.0 392.0L510.6 392.0L511.1 387.7L511.7 389.1L512.2 373.4L512.8 362.5L513.4 341.9L513.9 350.5L514.5 383.6L515.0 392.0L515.6 347.7L516.2 349.0L516.7 353.1L517.3 392.0L517.8 331.8L518.4 383.7L519.0 342.1L519.5 392.0L520.1 392.0L520.6 392.0L521.2 383.3L521.8 379.2L522.3 359.6L522.9 342.3L523.4 364.1L524.0 339.7L524.6 331.6L525.1 392.0L525.7 355.1L526.2 328.6L526.8 362.5L527.4 392.0L527.9 342.9L528.5 391.7L529.0 392.0L529.6 392.0L530.2 392.0L530.7 378.7L531.3 367.4L531.8 362.5L532.4 392.0L533.0 392.0L533.5 331.8L534.1 392.0L534.6 392.0L535.2 369.8L535.8 392.0L536.3 392.0L536.9 353.3L537.4 392.0L538.0 351.6L538.6 353.4L539.1 374.8L539.7 333.8L540.2 363.6L540.8 355.1L541.4 331.5L541.9 390.4L542.5 392.0L543.0 392.0L543.6 330.0L544.2 366.0L544.7 392.0L545.3 345.0L545.8 371.0L546.4 392.0L547.0 372.0L547.5 336.0L548.1 372.3L548.6 392.0L549.2 355.1L549.8 392.0L550.3 392.0L550.9 336.3L551.4 392.0L552.0 391.9L552.6 354.3L553.1 388.9L553.7 350.7L554.2 360.9L554.8 392.0L555.4 392.0L555.9 356.4L556.5 384.2L557.0 392.0L557.6 352.7L558.2 337.1L558.7 336.0L559.3 338.8L559.8 333.6L560.4 373.2L561.0 339.9L561.5 383.4L562.1 392.0L562.6 329.5L563.2 367.5L563.8 391.0L564.3 392.0L564.9 348.0L565.4 392.0L566.0 332.3L566.6 367.1L567.1 335.2L567.7 383.7L568.2 392.0L568.8 392.0L569.4 340.4L569.9 392.0L570.5 342.3L571.0 392.0L571.6 328.5L572.2 392.0L572.7 330.8L573.3 392.0L573.8 339.6L574.4 392.0L575.0 392.0L575.5 392.0L576.1 361.6L576.6 392.0L577.2 341.3L577.8 378.8L578.3 346.7L578.9 392.0L579.4 335.4L580.0 325.0L580.6 376.7L581.1 388.5L581.7 372.5L582.2 392.0L582.8 360.6L583.4 388.9L583.9 392.0L584.5 392.0L585.0 372.7L585.6 378.3L586.2 330.9L586.7 351.3L587.3 347.4L587.8 331.6L588.4 392.0L589.0 381.1L589.5 335.7L590.1 386.5L590.6 392.0L591.2 392.0L591.8 329.7L592.3 338.4L592.9 341.1L593.4 392.0L594.0 341.9L594.6 345.5L595.1 359.9L595.7 383.5L596.2 357.5L596.8 392.0L597.4 375.0L597.9 392.0L598.5 359.0L599.0 392.0L599.6 362.0L600.2 392.0L600.7 360.2L601.3 373.2L601.8 335.0L602.4 389.8L603.0 337.7L603.5 357.4L604.1 392.0L604.6 392.0L605.2 392.0L605.8 392.0L606.3 353.2L606.9 392.0L607.4 381.8L608.0 331.5L608.6 392.0L609.1 392.0L609.7 392.0L610.2 392.0L610.8 345.7L611.4 331.5L611.9 373.3L612.5 392.0L613.0 352.6L613.6 390.4L614.2 367.9L614.7 392.0L615.3 392.0L615.8 392.0L616.4 343.0L617.0 370.2L617.5 329.3L618.1 392.0L618.6 367.0L619.2 384.7L619.8 392.0L620.3 336.0L620.9 368.8L621.4 387.8L622.0 321.1L622.6 361.2L623.1 347.9L623.7 392.0L624.2 353.0L624.8 392.0L625.4 337.3L625.9 340.5L626.5 351.2L627.0 348.9L627.6 392.0L628.2 392.0L628.7 346.0L629.3 367.3L629.8 335.5L630.4 392.0L631.0 339.6L631.5 359.4L632.1 338.9L632.6 351.3L633.2 392.0L633.8 374.9L634.3 386.8L634.9 335.7L635.4 343.3L636.0 392.0L636.6 336.0L637.1 386.0L637.7 392.0L638.2 392.0L638.8 347.4L639.4 392.0L639.9 392.0L640.5 350.4L641.0 392.0L641.6 358.8L642.2 333.4L642.7 356.0L643.3 354.6L643.8 368.9L644.4 392.0L645.0 392.0L645.5 335.7L646.1 392.0L646.6 330.0L647.2 385.7L647.8 350.2" stroke="#d62728" stroke-width="1.6" fill="none" stroke-linejoin="round" stroke-linecap="round"/><path d="M90.0 333.2L90.6 392.0L91.1 355.7L91.7 344.3L92.2 329.5L92.8 392.0L93.4 392.0L93.9 392.0L94.5 392.0L95.0 392.0L95.6 375.5L96.2 361.5L96.7 339.9L97.3 392.0L97.8 342.5L98.4 392.0L99.0 392.0L99.5 362.8L100.1 355.4L100.6 346.0L101.2 392.0L101.8 392.0L102.3 392.0L102.9 335.1L103.4 346.4L104.0 387.1L104.6 348.9L105.1 392.0L105.7 330.8L106.2 392.0L106.8 349.6L107.4 367.2L107.9 331.7L108.5 337.8L109.0 392.0L109.6 356.0L110.2 362.3L110.7 392.0L111.3 334.1L111.8 328.5L112.4 355.4L113.0 392.0L113.5 355.3L114.1 352.6L114.6 323.2L115.2 392.0L115.8 392.0L116.3 341.7L116.9 357.4L117.4 392.0L118.0 365.4L118.6 390.4L119.1 339.1L119.7 373.8L120.2 362.1L120.8 392.0L121.4 392.0L121.9 333.4L122.5 337.7L123.0 392.0L123.6 333.3L124.2 361.7L124.7 353.7L125.3 392.0L125.8 382.7L126.4 392.0L127.0 336.5L127.5 392.0L128.1 392.0L128.6 392.0L129.2 351.7L129.8 392.0L130.3 327.3L130.9 392.0L131.4 392.0L132.0 332.0L132.6 336.7L133.1 337.7L133.7 332.4L134.2 371.6L134.8 392.0L135.4 382.4L135.9 345.3L136.5 371.2L137.0 336.4L137.6 392.0L138.2 374.0L138.7 350.8L139.3 328.2L139.8 350.5L140.4 323.4L141.0 392.0L141.5 334.1L142.1 342.9L142.6 392.0L143.2 358.1L143.8 366.9L144.3 331.0L144.9 350.6L145.4 390.0L146.0 392.0L146.6 359.5L147.1 351.2L147.7 386.0L148.2 367.4L148.8 392.0L149.4 360.3L149.9 392.0L150.5 392.0L151.0 368.0L151.6 353.2L152.2 354.2L152.7 373.7L153.3 392.0L153.8 392.0L154.4 388.1L155.0 392.0L155.5 372.0L156.1 345.2L156.6 361.3L157.2 331.0L157.8 344.8L158.3 355.9L158.9 392.0L159.4 392.0L160.0 339.4L160.6 392.0L161.1 392.0L161.7 392.0L162.2 392.0L162.8 371.9L163.4 359.5L163.9 335.3L164.5 344.6L165.0 365.9L165.6 379.3L166.2 359.1L166.7 352.9L167.3 343.8L167.8 341.2L168.4 379.6L169.0 350.6L169.5 346.1L170.1 392.0L170.6 352.8L171.2 385.3L171.8 359.2L172.3 392.0L172.9 392.0L173.4 365.8L174.0 344.5L174.6 392.0L175.1 392.0L175.7 326.8L176.2 345.3L176.8 392.0L177.4 392.0L177.9 382.4L178.5 367.7L179.0 392.0L179.6 361.1L180.2 392.0L180.7 392.0L181.3 374.4L181.8 352.0L182.4 392.0L183.0 392.0L183.5 372.7L184.1 352.1L184.6 376.6L185.2 392.0L185.8 365.4L186.3 354.6L186.9 392.0L187.4 342.4L188.0 392.0L188.6 368.8L189.1 392.0L189.7 376.5L190.2 359.4L190.8 369.3L191.4 392.0L191.9 339.4L192.5 392.0L193.0 330.1L193.6 392.0L194.2 330.9L194.7 392.0L195.3 356.5L195.8 380.8L196.4 357.2L197.0 361.2L197.5 328.3L198.1 354.1L198.6 392.0L199.2 382.5L199.8 344.1L200.3 357.2L200.9 392.0L201.4 392.0L202.0 383.7L202.6 392.0L203.1 350.0L203.7 392.0L204.2 369.1L204.8 323.1L205.4 351.5L205.9 392.0L206.5 344.7L207.0 367.7L207.6 330.6L208.2 372.0L208.7 337.4L209.3 392.0L209.8 340.6L210.4 392.0L211.0 340.0L211.5 385.5L212.1 392.0L212.6 347.6L213.2 329.5L213.8 392.0L214.3 377.8L214.9 342.2L215.4 331.8L216.0 342.7L216.6 327.1L217.1 339.5L217.7 360.7L218.2 368.2L218.8 330.9L219.4 392.0L219.9 392.0L220.5 353.8L221.0 391.4L221.6 392.0L222.2 392.0L222.7 392.0L223.3 330.5L223.8 333.5L224.4 341.8L225.0 381.1L225.5 392.0L226.1 392.0L226.6 362.7L227.2 384.2L227.8 388.1L228.3 392.0L228.9 332.0L229.4 332.5L230.0 391.8L230.6 392.0L231.1 365.6L231.7 378.0L232.2 365.8L232.8 392.0L233.4 392.0L233.9 392.0L234.5 378.4L235.0 392.0L235.6 379.2L236.2 386.0L236.7 341.7L237.3 392.0L237.8 392.0L238.4 354.0L239.0 368.6L239.5 392.0L240.1 353.1L240.6 392.0L241.2 392.0L241.8 392.0L242.3 338.1L242.9 392.0L243.4 361.7L244.0 380.1L244.6 343.8L245.1 375.5L245.7 392.0L246.2 340.0L246.8 392.0L247.4 392.0L247.9 392.0L248.5 363.3L249.0 333.0L249.6 360.9L250.2 392.0L250.7 386.8L251.3 357.1L251.8 392.0L252.4 340.3L253.0 392.0L253.5 325.4L254.1 392.0L254.6 372.4L255.2 392.0L255.8 392.0L256.3 368.5L256.9 392.0L257.4 392.0L258.0 345.4L258.6 392.0L259.1 392.0L259.7 391.6L260.2 333.2L260.8 370.7L261.4 383.0L261.9 353.7L262.5 392.0L263.0 341.4L263.6 333.5L264.2 373.6L264.7 366.3L265.3 346.6L265.8 354.0L266.4 366.4L267.0 332.6L267.5 392.0L268.1 356.4L268.6 392.0L269.2 337.3L269.8 392.0L270.3 392.0L270.9 392.0L271.4 342.7L272.0 392.0L272.6 392.0L273.1 385.1L273.7 392.0L274.2 392.0L274.8 348.0L275.4 341.2L275.9 372.6L276.5 392.0L277.0 329.4L277.6 357.9L278.2 327.6L278.7 335.3L279.3 362.9L279.8 383.2L280.4 325.0L281.0 379.4L281.5 374.4L282.1 368.4L282.6 341.9L283.2 369.4L283.8 346.6L284.3 392.0L284.9 347.3L285.4 392.0L286.0 332.6L286.6 383.3L287.1 352.6L287.7 392.0L288.2 392.0L288.8 354.6L289.4 392.0L289.9 392.0L290.5 325.9L291.0 392.0L291.6 367.8L292.2 342.7L292.7 368.4L293.3 392.0L293.8 367.3L294.4 347.7L295.0 392.0L295.5 342.5L296.1 344.0L296.6 392.0L297.2 366.8L297.8 364.9L298.3 365.9L298.9 392.0L299.4 336.1L300.0 377.5L300.6 344.1L301.1 392.0L301.7 350.8L302.2 362.8L302.8 392.0L303.4 341.5L303.9 392.0L304.5 392.0L305.0 351.4L305.6 324.9L306.2 333.0L306.7 326.2L307.3 329.5L307.8 325.7L308.4 327.9L309.0 341.7L309.5 392.0L310.1 328.8L310.6 322.3L311.2 324.5L311.8 324.2L312.3 331.5L312.9 322.9L313.4 326.5L314.0 325.1L314.6 340.4L315.1 333.8L315.7 316.4L316.2 321.9L316.8 329.6L317.4 321.5L317.9 327.7L318.5 331.9L319.0 392.0L319.6 328.9L320.2 336.3L320.7 324.8L321.3 324.4L321.8 326.3L322.4 345.8L323.0 328.0L323.5 340.0L324.1 334.5L324.5 323.1L324.8 321.7L325.0 320.4L325.2 319.0L325.5 317.8L325.8 316.5L326.0 315.3L326.2 314.2L326.5 313.0L326.8 312.0L327.0 310.9L327.2 310.0L327.5 309.0L327.8 308.1L328.0 307.3L328.2 306.5L328.5 305.7L328.8 305.0L329.0 304.4L329.2 303.8L329.5 303.2L329.8 302.7L330.0 302.3L330.2 301.9L330.5 301.6L330.8 301.3L331.0 301.1L331.2 301.0L331.5 300.9L331.8 300.9L332.0 300.9L332.2 301.0L332.5 301.1L332.8 301.2L333.0 301.3L333.2 301.4L333.5 301.6L333.8 301.8L334.0 302.1L334.2 302.4L334.5 302.7L334.8 303.0L335.0 303.4L335.2 303.8L335.5 304.3L335.8 304.8L336.0 305.3L336.2 305.9L336.5 306.5L336.8 307.1L337.0 307.8L337.2 308.6L337.5 309.3L337.8 310.1L338.0 311.0L338.2 311.9L338.5 312.8L338.8 313.8L339.0 314.8L339.2 315.9L339.5 317.0L339.8 318.1L340.0 319.3L340.2 320.6L340.5 321.9L340.8 323.2L341.0 324.6L341.2 326.0L341.5 327.5L341.8 329.0L342.0 330.6L342.2 327.2L342.5 324.0L342.8 320.9L343.0 317.9L343.2 315.0L343.5 312.3L343.8 309.7L344.0 307.2L344.2 304.8L344.5 302.5L344.8 300.4L345.0 298.3L345.2 296.4L345.5 294.6L345.8 292.9L346.0 291.3L346.2 289.8L346.5 288.4L346.8 287.1L347.0 286.0L347.2 284.9L347.5 283.9L347.8 283.0L348.0 282.3L348.2 281.6L348.5 281.0L348.8 280.4L349.0 280.0L349.2 279.7L349.5 279.4L349.8 279.2L350.0 279.1L350.2 279.0L350.5 279.0L350.8 279.0L351.0 279.0L351.2 279.1L351.5 279.3L351.8 279.5L352.0 279.8L352.2 280.1L352.5 280.5L352.8 281.0L353.0 281.6L353.2 282.2L353.5 282.9L353.8 283.6L354.0 284.5L354.2 285.4L354.5 286.4L354.8 287.5L355.0 288.7L355.2 290.0L355.5 291.3L355.8 292.7L356.0 294.2L356.2 295.9L356.5 297.6L356.8 299.3L357.0 301.2L357.2 303.2L357.5 305.3L357.8 307.4L358.0 309.7L358.2 312.0L358.5 314.5L358.8 317.0L359.0 319.7L359.2 322.4L359.5 325.2L359.6 326.4L359.8 324.2L360.0 320.7L360.2 317.2L360.5 313.9L360.8 310.6L361.0 307.4L361.2 304.2L361.5 301.2L361.8 298.2L362.0 295.4L362.2 292.6L362.5 289.8L362.8 287.2L363.0 284.6L363.2 282.2L363.5 279.8L363.8 277.4L364.0 275.2L364.2 273.0L364.5 270.9L364.8 268.9L365.0 267.0L365.2 265.1L365.5 263.3L365.8 261.6L366.0 259.9L366.2 258.3L366.5 256.8L366.8 255.4L367.0 254.0L367.2 252.7L367.5 251.5L367.8 250.3L368.0 249.2L368.2 248.2L368.5 247.3L368.8 246.4L369.0 245.5L369.2 244.8L369.5 244.0L369.8 243.4L370.0 242.8L370.2 242.3L370.5 241.8L370.8 241.4L371.0 241.0L371.2 240.7L371.5 240.5L371.8 240.2L372.0 240.1L372.2 240.0L372.5 239.9L372.8 239.8L373.0 239.8L373.2 239.9L373.5 239.9L373.8 240.1L374.0 240.4L374.2 240.7L374.5 241.1L374.8 241.7L375.0 242.3L375.2 243.1L375.5 244.0L375.8 245.0L376.0 246.1L376.2 247.3L376.5 248.6L376.8 250.1L377.0 251.7L377.2 253.5L377.5 255.3L377.8 257.4L378.0 259.5L378.2 261.8L378.5 264.2L378.8 266.8L379.0 269.5L379.2 272.3L379.5 275.3L379.8 278.5L380.0 281.8L380.2 285.2L380.5 288.8L380.8 292.6L381.0 296.5L381.2 290.8L381.5 285.3L381.8 279.9L382.0 274.8L382.2 269.8L382.5 264.9L382.8 260.2L383.0 255.7L383.2 251.4L383.5 247.2L383.8 243.2L384.0 239.3L384.2 235.6L384.5 232.1L384.8 228.7L385.0 225.4L385.2 222.3L385.5 219.4L385.8 216.6L386.0 214.0L386.2 211.5L386.5 209.1L386.8 206.9L387.0 204.8L387.2 202.9L387.5 201.1L387.8 199.4L388.0 197.9L388.2 196.5L388.5 195.3L388.8 194.1L389.0 193.1L389.2 192.2L389.5 191.4L389.8 190.7L390.0 190.2L390.2 189.7L390.5 189.4L390.8 189.1L391.0 188.9L391.2 188.9L391.5 188.8L391.8 188.8L392.0 188.9L392.2 189.0L392.5 189.2L392.8 189.5L393.0 189.8L393.2 190.2L393.5 190.7L393.8 191.3L394.0 192.0L394.2 192.7L394.5 193.5L394.8 194.5L395.0 195.5L395.2 196.6L395.5 197.8L395.8 199.1L396.0 200.6L396.2 202.1L396.5 203.7L396.8 205.4L397.0 207.3L397.2 209.2L397.5 211.2L397.8 213.4L398.0 215.7L398.2 218.0L398.5 220.5L398.8 223.1L399.0 225.8L399.2 228.7L399.5 231.6L399.8 234.7L400.0 237.9L400.2 241.2L400.5 244.6L400.8 248.2L401.0 251.8L401.2 255.6L401.5 259.5L401.8 263.6L402.0 267.8L402.2 272.0L402.5 276.5L402.8 281.0L402.8 281.9L403.0 277.0L403.2 271.0L403.5 265.2L403.8 259.6L404.0 254.2L404.2 249.1L404.5 244.1L404.8 239.4L405.0 234.8L405.2 230.5L405.5 226.3L405.8 222.3L406.0 218.6L406.2 215.0L406.5 211.6L406.8 208.4L407.0 205.4L407.2 202.5L407.5 199.9L407.8 197.4L408.0 195.1L408.2 193.0L408.5 191.0L408.8 189.2L409.0 187.6L409.2 186.1L409.5 184.8L409.8 183.7L410.0 182.6L410.2 181.8L410.5 181.1L410.8 180.5L411.0 180.0L411.2 179.7L411.5 179.5L411.8 179.4L412.0 179.3L412.2 179.4L412.5 179.4L412.8 179.6L413.0 179.8L413.2 180.2L413.5 180.6L413.8 181.1L414.0 181.8L414.2 182.5L414.5 183.3L414.8 184.3L415.0 185.3L415.2 186.5L415.5 187.8L415.8 189.3L416.0 190.8L416.2 192.5L416.5 194.3L416.8 196.2L417.0 198.3L417.2 200.5L417.5 202.8L417.8 205.3L418.0 207.9L418.2 210.6L418.5 213.5L418.8 216.6L419.0 219.7L419.2 223.1L419.5 226.5L419.8 230.1L420.0 233.9L420.2 237.8L420.5 241.9L420.8 246.1L421.0 250.5L421.2 255.0L421.5 259.7L421.8 264.5L422.0 269.5L422.2 264.0L422.5 258.7L422.8 253.7L423.0 248.9L423.2 244.2L423.5 239.8L423.8 235.6L424.0 231.6L424.2 227.8L424.5 224.2L424.8 220.8L425.0 217.6L425.2 214.6L425.5 211.8L425.8 209.2L426.0 206.7L426.2 204.5L426.5 202.4L426.8 200.5L427.0 198.8L427.2 197.2L427.5 195.8L427.8 194.6L428.0 193.5L428.2 192.6L428.5 191.9L428.8 191.2L429.0 190.8L429.2 190.4L429.5 190.2L429.8 190.0L430.0 190.0L430.2 190.0L430.5 190.1L430.8 190.3L431.0 190.5L431.2 190.8L431.5 191.2L431.8 191.7L432.0 192.3L432.2 193.0L432.5 193.8L432.8 194.7L433.0 195.7L433.2 196.8L433.5 198.0L433.8 199.4L434.0 200.9L434.2 202.5L434.5 204.2L434.8 206.0L435.0 207.9L435.2 210.0L435.5 212.2L435.8 214.6L436.0 217.0L436.2 219.6L436.5 222.4L436.8 225.2L437.0 228.2L437.2 231.4L437.5 234.7L437.8 238.1L438.0 241.6L438.2 245.3L438.5 249.2L438.8 253.2L439.0 257.3L439.2 261.6L439.5 266.0L439.8 270.6L440.0 275.3L440.2 280.2L440.5 285.2L440.8 290.4L440.8 291.4L441.0 285.2L441.2 277.8L441.5 270.8L441.8 264.2L442.0 258.0L442.2 252.1L442.5 246.6L442.8 241.5L443.0 236.7L443.2 232.2L443.5 228.1L443.8 224.4L444.0 221.0L444.2 217.9L444.5 215.1L444.8 212.7L445.0 210.5L445.2 208.7L445.5 207.1L445.8 205.8L446.0 204.8L446.2 204.0L446.5 203.5L446.8 203.2L447.0 203.1L447.1 203.1L447.2 203.2L447.5 203.6L447.8 204.2L448.0 204.9L448.2 205.8L448.5 206.8L448.8 207.9L449.0 209.2L449.2 210.5L449.5 212.0L449.8 213.5L450.0 215.1L450.2 216.8L450.5 218.6L450.8 220.5L451.0 222.4L451.2 224.4L451.5 226.5L451.8 228.7L452.0 231.0L452.2 233.3L452.5 235.7L452.8 238.1L453.0 240.6L453.2 243.2L453.5 245.8L453.8 248.5L454.0 251.3L454.2 254.1L454.5 257.0L454.8 260.0L455.0 263.0L455.2 266.0L455.5 269.2L455.8 272.3L456.0 275.6L456.2 278.8L456.5 282.2L456.8 285.6L457.0 289.0L457.2 292.5L457.5 296.1L457.8 299.7L458.0 303.3L458.2 307.0L458.5 310.8L458.8 314.6L459.0 318.5L459.2 322.4L459.3 323.1L459.5 323.5L459.8 324.0L460.0 324.5L460.2 325.0L460.5 325.5L460.8 326.0L460.8 326.1L461.3 392.0L461.8 341.1L462.4 358.9L463.0 340.2L463.5 392.0L464.1 352.2L464.6 347.0L465.2 392.0L465.8 387.9L466.3 331.8L466.9 355.5L467.4 330.5L468.0 392.0L468.6 367.4L469.1 355.8L469.7 348.9L470.2 338.9L470.8 392.0L471.4 339.4L471.9 365.7L472.5 384.5L473.0 340.1L473.6 392.0L474.2 365.7L474.7 392.0L475.3 373.0L475.8 389.4L476.4 392.0L477.0 392.0L477.5 392.0L478.1 376.5L478.6 392.0L479.2 345.0L479.8 357.7L480.3 392.0L480.9 336.6L481.4 332.9L482.0 331.9L482.6 347.0L483.1 346.6L483.7 392.0L484.2 360.0L484.8 349.3L485.4 392.0L485.9 347.7L486.5 364.9L487.0 353.4L487.6 350.4L488.2 352.8L488.7 329.7L489.3 350.0L489.8 336.1L490.4 346.8L491.0 392.0L491.5 392.0L492.1 350.2L492.6 377.3L493.2 373.9L493.8 343.5L494.3 337.4L494.9 392.0L495.4 380.9L496.0 331.6L496.6 389.2L497.1 363.6L497.7 359.3L498.2 387.8L498.8 359.8L499.4 392.0L499.9 380.3L500.5 381.9L501.0 337.6L501.6 392.0L502.2 360.8L502.7 361.9L503.3 334.4L503.8 376.8L504.4 348.5L505.0 392.0L505.5 333.8L506.1 392.0L506.6 332.4L507.2 336.9L507.8 336.7L508.3 392.0L508.9 358.5L509.4 363.3L510.0 332.5L510.6 336.0L511.1 392.0L511.7 372.6L512.2 364.9L512.8 346.6L513.4 392.0L513.9 367.0L514.5 371.9L515.0 392.0L515.6 330.6L516.2 392.0L516.7 383.7L517.3 375.4L517.8 342.4L518.4 392.0L519.0 347.0L519.5 374.0L520.1 392.0L520.6 369.3L521.2 343.9L521.8 378.2L522.3 364.9L522.9 345.0L523.4 374.9L524.0 331.5L524.6 392.0L525.1 378.4L525.7 337.7L526.2 381.9L526.8 328.9L527.4 368.5L527.9 349.3L528.5 381.8L529.0 353.3L529.6 337.5L530.2 377.3L530.7 342.0L531.3 339.2L531.8 370.9L532.4 386.3L533.0 340.2L533.5 352.4L534.1 369.4L534.6 346.7L535.2 392.0L535.8 374.2L536.3 380.0L536.9 392.0L537.4 358.6L538.0 363.6L538.6 385.0L539.1 350.5L539.7 331.0L540.2 330.7L540.8 392.0L541.4 365.0L541.9 388.7L542.5 388.6L543.0 336.0L543.6 336.1L544.2 392.0L544.7 347.1L545.3 392.0L545.8 351.4L546.4 358.4L547.0 389.5L547.5 365.5L548.1 348.1L548.6 392.0L549.2 364.2L549.8 332.7L550.3 392.0L550.9 392.0L551.4 325.4L552.0 392.0L552.6 371.3L553.1 392.0L553.7 370.9L554.2 392.0L554.8 349.5L555.4 392.0L555.9 341.3L556.5 369.4L557.0 385.7L557.6 380.2L558.2 331.5L558.7 356.0L559.3 361.1L559.8 344.3L560.4 351.1L561.0 364.0L561.5 347.7L562.1 379.3L562.6 330.3L563.2 392.0L563.8 338.2L564.3 347.2L564.9 392.0L565.4 384.4L566.0 351.8L566.6 392.0L567.1 374.2L567.7 388.6L568.2 368.1L568.8 329.3L569.4 343.9L569.9 347.3L570.5 392.0L571.0 356.6L571.6 392.0L572.2 392.0L572.7 363.2L573.3 363.6L573.8 333.2L574.4 362.4L575.0 363.9L575.5 392.0L576.1 362.0L576.6 392.0L577.2 392.0L577.8 392.0L578.3 353.3L578.9 392.0L579.4 392.0L580.0 337.6L580.6 392.0L581.1 350.6L581.7 392.0L582.2 392.0L582.8 338.1L583.4 363.3L583.9 329.0L584.5 392.0L585.0 392.0L585.6 345.0L586.2 348.4L586.7 392.0L587.3 343.7L587.8 392.0L588.4 332.1L589.0 392.0L589.5 346.1L590.1 346.4L590.6 329.4L591.2 392.0L591.8 334.1L592.3 358.0L592.9 366.1L593.4 339.8L594.0 345.0L594.6 392.0L595.1 355.5L595.7 392.0L596.2 362.2L596.8 359.4L597.4 344.3L597.9 392.0L598.5 331.3L599.0 392.0L599.6 392.0L600.2 365.6L600.7 355.4L601.3 370.9L601.8 392.0L602.4 392.0L603.0 375.2L603.5 336.9L604.1 392.0L604.6 392.0L605.2 350.5L605.8 358.0L606.3 349.6L606.9 360.2L607.4 346.2L608.0 392.0L608.6 344.1L609.1 392.0L609.7 390.3L610.2 392.0L610.8 366.0L611.4 378.4L611.9 335.2L612.5 392.0L613.0 392.0L613.6 354.9L614.2 338.7L614.7 392.0L615.3 371.7L615.8 379.0L616.4 367.8L617.0 359.1L617.5 392.0L618.1 392.0L618.6 371.4L619.2 391.8L619.8 362.3L620.3 377.8L620.9 392.0L621.4 392.0L622.0 357.9L622.6 368.5L623.1 374.3L623.7 392.0L624.2 356.3L624.8 392.0L625.4 379.0L625.9 342.6L626.5 365.3L627.0 353.7L627.6 351.6L628.2 347.9L628.7 368.5L629.3 339.5L629.8 330.4L630.4 383.5L631.0 355.2L631.5 392.0L632.1 335.7L632.6 392.0L633.2 368.6L633.8 392.0L634.3 364.3L634.9 333.1L635.4 362.3L636.0 392.0L636.6 392.0L637.1 372.0L637.7 351.6L638.2 392.0L638.8 330.2L639.4 329.3L639.9 392.0L640.5 373.5L641.0 332.0L641.6 392.0L642.2 392.0L642.7 366.8L643.3 338.9L643.8 392.0L644.4 337.5L645.0 382.7L645.5 351.1L646.1 392.0L646.6 358.6L647.2 392.0L647.8 337.6" stroke="#9467bd" stroke-width="1.6" fill="none" stroke-linejoin="round" stroke-linecap="round"/><path d="M90.0 366.5L90.6 392.0L91.1 351.5L91.7 392.0L92.2 352.5L92.8 392.0L93.4 370.9L93.9 381.5L94.5 362.3L95.0 368.0L95.6 348.0L96.2 392.0L96.7 392.0L97.3 351.1L97.8 347.6L98.4 392.0L99.0 373.3L99.5 331.2L100.1 359.7L100.6 392.0L101.2 357.6L101.8 392.0L102.3 323.7L102.9 391.8L103.4 379.5L104.0 342.3L104.6 370.0L105.1 392.0L105.7 323.4L106.2 392.0L106.8 392.0L107.4 392.0L107.9 346.5L108.5 392.0L109.0 392.0L109.6 336.4L110.2 392.0L110.7 350.2L111.3 341.9L111.8 359.9L112.4 339.5L113.0 392.0L113.5 365.6L114.1 392.0L114.6 392.0L115.2 392.0L115.8 340.1L116.3 392.0L116.9 360.8L117.4 366.9L118.0 346.6L118.6 392.0L119.1 378.4L119.7 392.0L120.2 392.0L120.8 392.0L121.4 354.6L121.9 351.2L122.5 357.1L123.0 392.0L123.6 346.1L124.2 392.0L124.7 392.0L125.3 325.6L125.8 357.8L126.4 392.0L127.0 362.8L127.5 363.8L128.1 342.1L128.6 371.3L129.2 329.8L129.8 392.0L130.3 361.9L130.9 392.0L131.4 365.0L132.0 355.2L132.6 374.7L133.1 389.8L133.7 346.7L134.2 345.0L134.8 327.3L135.4 353.6L135.9 392.0L136.5 336.1L137.0 392.0L137.6 374.4L138.2 358.3L138.7 348.8L139.3 338.8L139.8 376.3L140.4 385.1L141.0 327.6L141.5 359.9L142.1 392.0L142.6 345.2L143.2 364.0L143.8 332.4L144.3 384.5L144.9 330.9L145.4 337.2L146.0 392.0L146.6 346.8L147.1 360.6L147.7 384.8L148.2 392.0L148.8 392.0L149.4 381.8L149.9 392.0L150.5 331.9L151.0 336.2L151.6 345.9L152.2 337.4L152.7 338.6L153.3 392.0L153.8 357.2L154.4 392.0L155.0 367.0L155.5 352.0L156.1 392.0L156.6 343.5L157.2 392.0L157.8 392.0L158.3 332.5L158.9 330.8L159.4 392.0L160.0 353.8L160.6 392.0L161.1 392.0L161.7 392.0L162.2 392.0L162.8 344.1L163.4 392.0L163.9 392.0L164.5 371.7L165.0 342.0L165.6 347.0L166.2 369.8L166.7 347.0L167.3 342.4L167.8 370.1L168.4 339.0L169.0 392.0L169.5 353.3L170.1 392.0L170.6 348.9L171.2 342.2L171.8 328.4L172.3 392.0L172.9 338.3L173.4 371.1L174.0 370.1L174.6 377.1L175.1 333.8L175.7 362.3L176.2 370.5L176.8 376.6L177.4 392.0L177.9 392.0L178.5 337.1L179.0 370.3L179.6 360.1L180.2 388.1L180.7 392.0L181.3 392.0L181.8 392.0L182.4 392.0L183.0 386.3L183.5 392.0L184.1 362.4L184.6 392.0L185.2 348.8L185.8 392.0L186.3 346.3L186.9 392.0L187.4 329.2L188.0 392.0L188.6 372.5L189.1 372.1L189.7 351.2L190.2 392.0L190.8 337.2L191.4 392.0L191.9 382.2L192.5 369.8L193.0 389.8L193.6 392.0L194.2 373.5L194.7 355.9L195.3 366.2L195.8 343.4L196.4 392.0L197.0 392.0L197.5 392.0L198.1 348.9L198.6 392.0L199.2 345.5L199.8 344.0L200.3 392.0L200.9 349.3L201.4 392.0L202.0 392.0L202.6 349.6L203.1 370.8L203.7 392.0L204.2 367.4L204.8 328.6L205.4 392.0L205.9 392.0L206.5 355.3L207.0 358.4L207.6 392.0L208.2 351.2L208.7 392.0L209.3 380.3L209.8 366.8L210.4 392.0L211.0 331.6L211.5 392.0L212.1 351.4L212.6 392.0L213.2 335.5L213.8 392.0L214.3 338.3L214.9 355.5L215.4 354.9L216.0 392.0L216.6 392.0L217.1 380.9L217.7 336.5L218.2 343.0L218.8 329.2L219.4 361.2L219.9 347.4L220.5 382.1L221.0 349.4L221.6 392.0L222.2 365.2L222.7 373.1L223.3 392.0L223.8 392.0L224.4 326.1L225.0 326.5L225.5 331.0L226.1 392.0L226.6 328.9L227.2 392.0L227.8 333.0L228.3 392.0L228.9 370.3L229.4 339.0L230.0 388.0L230.6 367.1L231.1 338.2L231.7 392.0L232.2 346.3L232.8 364.4L233.4 374.4L233.9 392.0L234.5 362.3L235.0 376.1L235.6 350.1L236.2 349.4L236.7 355.9L237.3 392.0L237.8 337.6L238.4 392.0L239.0 361.0L239.5 379.3L240.1 335.6L240.6 392.0L241.2 392.0L241.8 390.4L242.3 392.0L242.9 392.0L243.4 331.8L244.0 392.0L244.6 348.8L245.1 361.9L245.7 355.0L246.2 392.0L246.8 392.0L247.4 392.0L247.9 392.0L248.5 353.0L249.0 365.4L249.6 392.0L250.2 365.0L250.7 392.0L251.3 350.1L251.8 392.0L252.4 381.6L253.0 392.0L253.5 387.7L254.1 392.0L254.6 349.3L255.2 373.4L255.8 328.8L256.3 369.8L256.9 336.2L257.4 392.0L258.0 369.6L258.6 361.9L259.1 369.9L259.7 366.4L260.2 348.2L260.8 392.0L261.4 353.4L261.9 392.0L262.5 392.0L263.0 331.7L263.6 357.5L264.2 392.0L264.7 347.2L265.3 392.0L265.8 357.4L266.4 392.0L267.0 392.0L267.5 357.2L268.1 391.6L268.6 339.2L269.2 328.8L269.8 392.0L270.3 359.8L270.9 376.5L271.4 392.0L272.0 392.0L272.6 329.4L273.1 392.0L273.7 357.6L274.2 342.9L274.8 392.0L275.4 365.7L275.9 328.2L276.5 392.0L277.0 336.3L277.6 354.6L278.2 333.6L278.7 380.7L279.3 330.5L279.8 392.0L280.4 349.7L281.0 334.5L281.5 335.8L282.1 383.1L282.6 392.0L283.2 392.0L283.8 365.4L284.3 392.0L284.9 348.4L285.4 392.0L286.0 340.2L286.6 392.0L287.1 343.1L287.7 349.3L288.2 342.0L288.8 392.0L289.4 340.5L289.9 392.0L290.5 338.4L291.0 362.4L291.6 337.2L292.2 343.9L292.7 372.7L293.3 376.2L293.8 328.4L294.4 368.1L295.0 392.0L295.5 392.0L296.1 338.4L296.6 392.0L297.2 392.0L297.8 376.0L298.3 362.1L298.9 339.6L299.4 330.8L300.0 383.8L300.6 340.0L301.1 392.0L301.7 347.6L302.2 392.0L302.8 328.3L303.4 375.2L303.9 367.6L304.5 392.0L305.0 330.5L305.6 326.5L306.2 324.4L306.7 317.6L307.3 324.9L307.8 376.8L308.4 315.7L309.0 327.1L309.5 326.8L310.1 323.2L310.6 331.1L311.2 333.0L311.8 316.6L312.3 335.7L312.9 344.1L313.4 338.7L314.0 316.9L314.6 329.6L315.1 326.4L315.7 343.7L316.2 326.6L316.8 322.9L317.4 325.7L317.9 323.0L318.5 327.1L319.0 321.0L319.6 329.1L320.2 319.2L320.7 331.5L321.3 345.8L321.8 327.5L322.4 329.5L323.0 332.2L323.5 339.2L324.1 321.9L324.5 323.1L324.8 321.8L325.0 320.5L325.2 319.2L325.5 318.0L325.8 316.8L326.0 315.6L326.2 314.5L326.5 313.4L326.8 312.3L327.0 311.3L327.2 310.3L327.5 309.4L327.8 308.5L328.0 307.7L328.2 306.9L328.5 306.1L328.8 305.4L329.0 304.7L329.2 304.1L329.5 303.5L329.8 302.9L330.0 302.4L330.2 302.0L330.5 301.6L330.8 301.2L331.0 300.9L331.2 300.7L331.5 300.5L331.8 300.4L332.0 300.3L332.2 300.3L332.5 300.4L332.8 300.4L333.0 300.6L333.2 300.7L333.5 300.9L333.8 301.2L334.0 301.5L334.2 301.9L334.5 302.3L334.8 302.8L335.0 303.3L335.2 303.9L335.5 304.6L335.8 305.3L336.0 306.0L336.2 306.9L336.5 307.8L336.8 308.7L337.0 309.8L337.2 310.9L337.5 312.0L337.8 313.3L338.0 314.6L338.2 315.9L338.5 317.4L338.8 318.9L339.0 320.5L339.2 322.1L339.5 323.9L339.8 325.7L340.0 327.5L340.2 329.5L340.5 331.5L340.8 333.6L341.0 335.8L341.2 338.1L341.4 339.5L341.5 338.0L341.8 334.5L342.0 331.0L342.2 327.7L342.5 324.4L342.8 321.3L343.0 318.3L343.2 315.3L343.5 312.5L343.8 309.8L344.0 307.1L344.2 304.6L344.5 302.2L344.8 299.8L345.0 297.6L345.2 295.4L345.5 293.4L345.8 291.4L346.0 289.6L346.2 287.8L346.5 286.1L346.8 284.5L347.0 283.0L347.2 281.6L347.5 280.2L347.8 279.0L348.0 277.8L348.2 276.8L348.5 275.8L348.8 274.8L349.0 274.0L349.2 273.3L349.5 272.6L349.8 272.0L350.0 271.4L350.2 271.0L350.5 270.6L350.8 270.2L351.0 270.0L351.2 269.8L351.5 269.6L351.8 269.5L352.0 269.5L352.2 269.5L352.2 269.5L352.5 269.5L352.8 269.6L353.0 269.7L353.2 269.9L353.5 270.2L353.8 270.5L354.0 271.0L354.2 271.5L354.5 272.1L354.8 272.7L355.0 273.5L355.2 274.3L355.5 275.3L355.8 276.3L356.0 277.5L356.2 278.7L356.5 280.0L356.8 281.5L357.0 283.0L357.2 284.6L357.5 286.4L357.8 288.2L358.0 290.2L358.2 292.2L358.5 294.4L358.8 296.7L359.0 299.1L359.2 301.6L359.5 304.2L359.8 306.9L360.0 309.8L360.2 312.7L360.5 315.8L360.8 319.0L361.0 322.3L361.2 325.8L361.4 327.9L361.5 325.7L361.8 320.4L362.0 315.2L362.2 310.2L362.5 305.3L362.8 300.5L363.0 295.9L363.2 291.4L363.5 287.0L363.8 282.8L364.0 278.7L364.2 274.7L364.5 270.9L364.8 267.1L365.0 263.5L365.2 260.1L365.5 256.7L365.8 253.5L366.0 250.4L366.2 247.5L366.5 244.6L366.8 241.9L367.0 239.3L367.2 236.8L367.5 234.4L367.8 232.2L368.0 230.1L368.2 228.0L368.5 226.1L368.8 224.3L369.0 222.6L369.2 221.1L369.5 219.6L369.8 218.2L370.0 217.0L370.2 215.8L370.5 214.7L370.8 213.8L371.0 212.9L371.2 212.1L371.5 211.5L371.8 210.9L372.0 210.4L372.2 210.0L372.5 209.6L372.8 209.4L373.0 209.2L373.2 209.1L373.5 209.0L373.7 209.0L373.8 209.0L374.0 209.1L374.2 209.3L374.5 209.7L374.8 210.3L375.0 211.1L375.2 212.1L375.5 213.3L375.8 214.8L376.0 216.5L376.2 218.5L376.5 220.7L376.8 223.1L377.0 225.9L377.2 228.9L377.5 232.2L377.8 235.8L378.0 239.7L378.2 243.8L378.5 248.3L378.8 253.0L379.0 258.1L379.2 263.4L379.5 269.1L379.8 275.1L380.0 281.4L380.2 288.0L380.5 295.0L380.8 289.4L381.0 283.9L381.2 278.7L381.5 273.6L381.8 268.6L382.0 263.9L382.2 259.3L382.5 254.8L382.8 250.5L383.0 246.4L383.2 242.4L383.5 238.6L383.8 235.0L384.0 231.5L384.2 228.1L384.5 224.9L384.8 221.9L385.0 219.0L385.2 216.2L385.5 213.6L385.8 211.1L386.0 208.8L386.2 206.6L386.5 204.6L386.8 202.7L387.0 200.9L387.2 199.3L387.5 197.8L387.8 196.4L388.0 195.2L388.2 194.0L388.5 193.0L388.8 192.1L389.0 191.4L389.2 190.7L389.5 190.2L389.8 189.7L390.0 189.4L390.2 189.1L390.5 188.9L390.8 188.9L391.0 188.8L391.2 188.8L391.5 188.9L391.8 189.0L392.0 189.2L392.2 189.5L392.5 189.9L392.8 190.3L393.0 190.8L393.2 191.4L393.5 192.1L393.8 192.9L394.0 193.7L394.2 194.7L394.5 195.8L394.8 196.9L395.0 198.2L395.2 199.6L395.5 201.1L395.8 202.6L396.0 204.3L396.2 206.1L396.5 208.0L396.8 210.0L397.0 212.2L397.2 214.4L397.5 216.8L397.8 219.3L398.0 221.9L398.2 224.6L398.5 227.4L398.8 230.4L399.0 233.4L399.2 236.6L399.5 240.0L399.8 243.4L400.0 247.0L400.2 250.7L400.5 254.5L400.8 258.4L401.0 262.5L401.2 266.7L401.5 271.1L401.8 275.5L402.0 280.2L402.2 275.0L402.5 270.0L402.8 265.1L403.0 260.4L403.2 255.8L403.5 251.4L403.8 247.1L404.0 243.0L404.2 239.0L404.5 235.2L404.8 231.5L405.0 227.9L405.2 224.5L405.5 221.2L405.8 218.0L406.0 215.0L406.2 212.1L406.5 209.3L406.8 206.7L407.0 204.2L407.2 201.9L407.5 199.6L407.8 197.5L408.0 195.5L408.2 193.7L408.5 191.9L408.8 190.3L409.0 188.8L409.2 187.4L409.5 186.1L409.8 185.0L410.0 183.9L410.2 183.0L410.5 182.1L410.8 181.4L411.0 180.7L411.2 180.2L411.5 179.7L411.8 179.4L412.0 179.1L412.2 178.9L412.5 178.8L412.8 178.8L412.9 178.7L413.0 178.7L413.2 178.8L413.5 178.9L413.8 179.1L414.0 179.5L414.2 179.9L414.5 180.4L414.8 181.1L415.0 181.8L415.2 182.7L415.5 183.7L415.8 184.9L416.0 186.1L416.2 187.5L416.5 189.1L416.8 190.8L417.0 192.6L417.2 194.6L417.5 196.7L417.8 198.9L418.0 201.4L418.2 203.9L418.5 206.7L418.8 209.5L419.0 212.6L419.2 215.8L419.5 219.1L419.8 222.7L420.0 226.4L420.2 230.2L420.5 234.2L420.8 238.4L421.0 242.8L421.2 247.3L421.5 252.0L421.8 256.9L422.0 262.0L422.2 267.2L422.5 272.6L422.8 278.2L422.9 281.6L423.0 278.9L423.2 272.4L423.5 266.1L423.8 260.1L424.0 254.4L424.2 248.9L424.5 243.7L424.8 238.8L425.0 234.1L425.2 229.7L425.5 225.5L425.8 221.6L426.0 218.0L426.2 214.6L426.5 211.4L426.8 208.5L427.0 205.8L427.2 203.3L427.5 201.1L427.8 199.1L428.0 197.2L428.2 195.7L428.5 194.3L428.8 193.1L429.0 192.1L429.2 191.3L429.5 190.7L429.8 190.2L430.0 189.9L430.2 189.8L430.5 189.7L430.8 189.8L431.0 189.9L431.2 190.1L431.5 190.5L431.8 191.0L432.0 191.7L432.2 192.5L432.5 193.5L432.8 194.7L433.0 196.0L433.2 197.5L433.5 199.2L433.8 201.0L434.0 203.1L434.2 205.4L434.5 207.8L434.8 210.4L435.0 213.3L435.2 216.3L435.5 219.6L435.8 223.0L436.0 226.7L436.2 230.6L436.5 234.7L436.8 239.1L437.0 243.6L437.2 248.4L437.5 253.4L437.8 258.6L438.0 264.1L438.2 269.8L438.5 275.7L438.8 270.9L439.0 266.2L439.2 261.7L439.5 257.3L439.8 253.1L440.0 249.0L440.2 245.1L440.5 241.3L440.8 237.7L441.0 234.3L441.2 231.0L441.5 227.8L441.8 224.8L442.0 221.9L442.2 219.1L442.5 216.5L442.8 214.1L443.0 211.8L443.2 209.6L443.5 207.5L443.8 205.6L444.0 203.8L444.2 202.1L444.5 200.6L444.8 199.2L445.0 197.9L445.2 196.7L445.5 195.7L445.8 194.7L446.0 193.9L446.2 193.2L446.5 192.6L446.8 192.1L447.0 191.7L447.2 191.4L447.5 191.1L447.8 191.0L448.0 190.9L448.2 190.9L448.2 190.9L448.5 191.3L448.8 192.0L449.0 192.9L449.2 193.9L449.5 195.2L449.8 196.6L450.0 198.1L450.2 199.8L450.5 201.6L450.8 203.5L451.0 205.5L451.2 207.6L451.5 209.9L451.8 212.2L452.0 214.7L452.2 217.3L452.5 219.9L452.8 222.6L453.0 225.5L453.2 228.4L453.5 231.4L453.8 234.5L454.0 237.7L454.2 241.0L454.5 244.3L454.8 247.8L455.0 251.3L455.2 254.9L455.5 258.5L455.8 262.3L456.0 266.1L456.2 270.0L456.5 274.0L456.8 278.0L457.0 282.1L457.2 286.3L457.5 290.5L457.8 294.9L458.0 299.2L458.2 303.7L458.5 308.2L458.8 312.8L459.0 317.5L459.2 322.2L459.3 323.1L459.5 323.5L459.8 324.0L460.0 324.5L460.2 325.0L460.5 325.5L460.8 326.0L460.8 326.1L461.3 392.0L461.8 334.6L462.4 392.0L463.0 352.6L463.5 364.8L464.1 378.4L464.6 392.0L465.2 352.6L465.8 330.2L466.3 362.8L466.9 392.0L467.4 353.5L468.0 364.9L468.6 334.9L469.1 345.3L469.7 381.7L470.2 392.0L470.8 353.1L471.4 392.0L471.9 362.0L472.5 392.0L473.0 333.6L473.6 392.0L474.2 330.0L474.7 345.4L475.3 336.8L475.8 331.1L476.4 392.0L477.0 392.0L477.5 334.5L478.1 392.0L478.6 370.5L479.2 392.0L479.8 337.4L480.3 392.0L480.9 392.0L481.4 392.0L482.0 328.8L482.6 392.0L483.1 374.0L483.7 392.0L484.2 339.0L484.8 389.6L485.4 377.2L485.9 343.9L486.5 355.6L487.0 392.0L487.6 339.5L488.2 392.0L488.7 331.3L489.3 392.0L489.8 358.0L490.4 341.5L491.0 344.6L491.5 392.0L492.1 392.0L492.6 368.9L493.2 362.4L493.8 354.3L494.3 336.1L494.9 351.5L495.4 332.0L496.0 348.6L496.6 355.7L497.1 339.5L497.7 331.3L498.2 392.0L498.8 344.8L499.4 392.0L499.9 335.9L500.5 337.8L501.0 392.0L501.6 392.0L502.2 392.0L502.7 382.3L503.3 336.9L503.8 381.8L504.4 349.7L505.0 376.4L505.5 359.0L506.1 392.0L506.6 360.4L507.2 392.0L507.8 392.0L508.3 391.2L508.9 347.0L509.4 392.0L510.0 392.0L510.6 360.7L511.1 381.0L511.7 392.0L512.2 364.8L512.8 392.0L513.4 392.0L513.9 392.0L514.5 340.0L515.0 392.0L515.6 356.3L516.2 340.9L516.7 367.7L517.3 392.0L517.8 392.0L518.4 392.0L519.0 382.9L519.5 392.0L520.1 327.7L520.6 392.0L521.2 392.0L521.8 374.9L522.3 351.4L522.9 391.5L523.4 354.2L524.0 373.5L524.6 353.7L525.1 377.9L525.7 330.2L526.2 368.1L526.8 360.9L527.4 392.0L527.9 342.3L528.5 340.7L529.0 348.7L529.6 392.0L530.2 392.0L530.7 358.5L531.3 343.1L531.8 392.0L532.4 327.7L533.0 392.0L533.5 392.0L534.1 392.0L534.6 331.0L535.2 392.0L535.8 353.8L536.3 343.7L536.9 330.7L537.4 367.3L538.0 367.6L538.6 392.0L539.1 359.1L539.7 392.0L540.2 347.4L540.8 345.4L541.4 355.2L541.9 392.0L542.5 338.5L543.0 334.2L543.6 333.7L544.2 392.0L544.7 325.4L545.3 352.0L545.8 364.4L546.4 367.3L547.0 362.4L547.5 350.1L548.1 340.2L548.6 392.0L549.2 340.3L549.8 347.0L550.3 348.1L550.9 364.5L551.4 354.1L552.0 362.9L552.6 392.0L553.1 392.0L553.7 392.0L554.2 392.0L554.8 338.0L555.4 392.0L555.9 351.5L556.5 392.0L557.0 373.6L557.6 389.8L558.2 392.0L558.7 392.0L559.3 333.0L559.8 374.9L560.4 346.7L561.0 367.5L561.5 350.4L562.1 361.1L562.6 362.1L563.2 360.2L563.8 326.2L564.3 345.4L564.9 352.0L565.4 392.0L566.0 392.0L566.6 365.7L567.1 392.0L567.7 352.6L568.2 329.1L568.8 372.9L569.4 357.6L569.9 392.0L570.5 391.7L571.0 359.4L571.6 355.8L572.2 390.7L572.7 392.0L573.3 356.5L573.8 335.6L574.4 364.7L575.0 366.0L575.5 367.1L576.1 349.1L576.6 387.6L577.2 392.0L577.8 353.6L578.3 368.1L578.9 355.0L579.4 355.0L580.0 388.2L580.6 392.0L581.1 369.6L581.7 392.0L582.2 358.1L582.8 387.0L583.4 392.0L583.9 392.0L584.5 365.5L585.0 329.1L585.6 392.0L586.2 332.8L586.7 338.7L587.3 392.0L587.8 339.6L588.4 361.4L589.0 388.6L589.5 346.1L590.1 369.3L590.6 338.4L591.2 392.0L591.8 360.7L592.3 325.3L592.9 358.2L593.4 392.0L594.0 344.3L594.6 392.0L595.1 334.1L595.7 392.0L596.2 392.0L596.8 344.0L597.4 332.4L597.9 392.0L598.5 392.0L599.0 367.4L599.6 353.4L600.2 392.0L600.7 335.2L601.3 392.0L601.8 330.1L602.4 350.8L603.0 345.8L603.5 392.0L604.1 344.1L604.6 392.0L605.2 348.5L605.8 384.6L606.3 366.7L606.9 392.0L607.4 329.9L608.0 355.1L608.6 348.9L609.1 353.6L609.7 392.0L610.2 341.3L610.8 392.0L611.4 344.2L611.9 351.6L612.5 392.0L613.0 374.5L613.6 351.9L614.2 331.5L614.7 392.0L615.3 392.0L615.8 392.0L616.4 392.0L617.0 372.5L617.5 336.4L618.1 392.0L618.6 331.0L619.2 392.0L619.8 351.3L620.3 392.0L620.9 392.0L621.4 357.5L622.0 392.0L622.6 392.0L623.1 332.2L623.7 365.0L624.2 343.1L624.8 349.3L625.4 392.0L625.9 378.7L626.5 331.1L627.0 392.0L627.6 332.6L628.2 392.0L628.7 365.5L629.3 392.0L629.8 330.2L630.4 355.8L631.0 392.0L631.5 392.0L632.1 368.6L632.6 392.0L633.2 370.6L633.8 335.8L634.3 361.3L634.9 383.6L635.4 392.0L636.0 356.3L636.6 341.8L637.1 392.0L637.7 365.5L638.2 392.0L638.8 335.1L639.4 336.6L639.9 387.7L640.5 328.3L641.0 392.0L641.6 359.4L642.2 344.9L642.7 392.0L643.3 392.0L643.8 368.9L644.4 340.1L645.0 377.3L645.5 362.9L646.1 392.0L646.6 379.1L647.2 379.6L647.8 392.0" stroke="#1f77b4" stroke-width="1.6" fill="none" stroke-linejoin="round" stroke-linecap="round"/><path d="M90.0 330.8L90.6 392.0L91.1 336.0L91.7 331.1L92.2 357.7L92.8 392.0L93.4 343.3L93.9 392.0L94.5 341.7L95.0 392.0L95.6 392.0L96.2 381.2L96.7 344.4L97.3 367.6L97.8 348.6L98.4 392.0L99.0 333.9L99.5 362.0L100.1 392.0L100.6 392.0L101.2 392.0L101.8 362.2L102.3 343.4L102.9 392.0L103.4 392.0L104.0 346.0L104.6 392.0L105.1 392.0L105.7 339.0L106.2 392.0L106.8 330.7L107.4 377.7L107.9 392.0L108.5 359.7L109.0 355.4L109.6 374.3L110.2 336.5L110.7 392.0L111.3 346.6L111.8 346.1L112.4 349.4L113.0 392.0L113.5 357.1L114.1 389.6L114.6 392.0L115.2 385.6L115.8 371.7L116.3 392.0L116.9 335.0L117.4 392.0L118.0 355.4L118.6 337.9L119.1 334.8L119.7 392.0L120.2 384.9L120.8 392.0L121.4 330.4L121.9 392.0L122.5 343.2L123.0 338.7L123.6 329.0L124.2 373.7L124.7 364.0L125.3 392.0L125.8 392.0L126.4 378.0L127.0 346.5L127.5 372.1L128.1 362.1L128.6 347.7L129.2 328.8L129.8 370.1L130.3 343.4L130.9 374.3L131.4 392.0L132.0 392.0L132.6 342.9L133.1 392.0L133.7 338.4L134.2 372.5L134.8 343.0L135.4 378.9L135.9 363.5L136.5 392.0L137.0 392.0L137.6 392.0L138.2 334.4L138.7 345.4L139.3 392.0L139.8 375.1L140.4 376.6L141.0 392.0L141.5 353.3L142.1 392.0L142.6 392.0L143.2 343.8L143.8 356.8L144.3 392.0L144.9 371.1L145.4 335.1L146.0 342.8L146.6 392.0L147.1 353.3L147.7 391.2L148.2 372.3L148.8 338.6L149.4 378.2L149.9 365.7L150.5 392.0L151.0 363.1L151.6 368.7L152.2 355.9L152.7 380.3L153.3 353.9L153.8 337.3L154.4 367.7L155.0 392.0L155.5 348.5L156.1 328.2L156.6 348.2L157.2 350.0L157.8 392.0L158.3 328.6L158.9 392.0L159.4 355.9L160.0 392.0L160.6 333.8L161.1 352.6L161.7 339.4L162.2 340.7L162.8 364.6L163.4 385.9L163.9 360.4L164.5 392.0L165.0 350.5L165.6 392.0L166.2 392.0L166.7 392.0L167.3 392.0L167.8 350.8L168.4 327.5L169.0 392.0L169.5 367.8L170.1 372.4L170.6 392.0L171.2 325.6L171.8 336.8L172.3 392.0L172.9 340.3L173.4 392.0L174.0 392.0L174.6 339.6L175.1 380.0L175.7 336.9L176.2 392.0L176.8 341.1L177.4 339.9L177.9 392.0L178.5 366.6L179.0 392.0L179.6 354.6L180.2 353.4L180.7 343.6L181.3 337.4L181.8 368.8L182.4 392.0L183.0 344.0L183.5 331.8L184.1 339.2L184.6 392.0L185.2 392.0L185.8 352.3L186.3 392.0L186.9 343.9L187.4 388.2L188.0 346.5L188.6 345.9L189.1 392.0L189.7 344.9L190.2 348.6L190.8 366.2L191.4 392.0L191.9 363.4L192.5 372.8L193.0 379.0L193.6 339.1L194.2 351.9L194.7 392.0L195.3 349.5L195.8 392.0L196.4 364.6L197.0 392.0L197.5 356.4L198.1 338.3L198.6 364.8L199.2 392.0L199.8 392.0L200.3 367.1L200.9 369.8L201.4 384.5L202.0 341.6L202.6 371.7L203.1 351.7L203.7 388.6L204.2 346.3L204.8 335.8L205.4 361.1L205.9 382.7L206.5 335.9L207.0 349.1L207.6 367.8L208.2 392.0L208.7 392.0L209.3 392.0L209.8 359.7L210.4 392.0L211.0 358.4L211.5 392.0L212.1 367.8L212.6 383.7L213.2 339.4L213.8 375.1L214.3 382.8L214.9 349.9L215.4 356.2L216.0 392.0L216.6 362.9L217.1 392.0L217.7 392.0L218.2 339.5L218.8 357.4L219.4 356.5L219.9 369.1L220.5 369.7L221.0 374.4L221.6 392.0L222.2 323.8L222.7 329.0L223.3 392.0L223.8 392.0L224.4 369.3L225.0 392.0L225.5 329.0L226.1 349.3L226.6 327.6L227.2 332.7L227.8 351.3L228.3 358.4L228.9 377.3L229.4 350.2L230.0 370.3L230.6 392.0L231.1 368.4L231.7 392.0L232.2 381.4L232.8 346.1L233.4 385.3L233.9 338.3L234.5 389.5L235.0 381.8L235.6 333.0L236.2 392.0L236.7 359.0L237.3 340.5L237.8 346.4L238.4 385.6L239.0 349.0L239.5 371.7L240.1 334.4L240.6 392.0L241.2 333.2L241.8 360.8L242.3 338.2L242.9 351.1L243.4 369.4L244.0 355.5L244.6 343.9L245.1 375.2L245.7 334.0L246.2 345.2L246.8 351.9L247.4 392.0L247.9 350.6L248.5 384.2L249.0 392.0L249.6 384.6L250.2 332.5L250.7 351.4L251.3 331.8L251.8 327.8L252.4 348.4L253.0 367.0L253.5 367.9L254.1 392.0L254.6 390.1L255.2 392.0L255.8 337.6L256.3 353.0L256.9 354.7L257.4 392.0L258.0 384.3L258.6 392.0L259.1 337.7L259.7 339.4L260.2 324.8L260.8 392.0L261.4 338.3L261.9 392.0L262.5 371.5L263.0 387.7L263.6 392.0L264.2 392.0L264.7 331.8L265.3 392.0L265.8 345.5L266.4 370.3L267.0 369.1L267.5 392.0L268.1 392.0L268.6 392.0L269.2 391.3L269.8 355.0L270.3 331.9L270.9 367.6L271.4 392.0L272.0 392.0L272.6 392.0L273.1 343.9L273.7 392.0L274.2 350.0L274.8 364.6L275.4 362.9L275.9 343.3L276.5 367.6L277.0 325.2L277.6 330.7L278.2 392.0L278.7 351.4L279.3 325.8L279.8 392.0L280.4 381.7L281.0 342.0L281.5 376.2L282.1 374.7L282.6 356.4L283.2 382.2L283.8 347.6L284.3 392.0L284.9 350.8L285.4 392.0L286.0 338.9L286.6 392.0L287.1 348.2L287.7 392.0L288.2 353.8L288.8 392.0L289.4 360.4L289.9 360.0L290.5 335.9L291.0 335.9L291.6 340.5L292.2 392.0L292.7 338.9L293.3 392.0L293.8 329.6L294.4 392.0L295.0 371.2L295.5 392.0L296.1 392.0L296.6 392.0L297.2 346.4L297.8 392.0L298.3 365.4L298.9 392.0L299.4 392.0L300.0 343.2L300.6 340.6L301.1 343.9L301.7 336.0L302.2 356.0L302.8 340.9L303.4 392.0L303.9 332.4L304.5 371.7L305.0 323.5L305.6 326.7L306.2 346.8L306.7 329.1L307.3 327.5L307.8 329.7L308.4 318.6L309.0 325.9L309.5 317.6L310.1 322.4L310.6 327.9L311.2 320.5L311.8 326.2L312.3 319.3L312.9 320.8L313.4 331.7L314.0 319.1L314.6 317.4L315.1 320.9L315.7 317.5L316.2 314.3L316.8 321.5L317.4 318.1L317.9 321.0L318.5 324.2L319.0 324.5L319.6 334.3L320.2 351.4L320.7 330.2L321.3 347.6L321.8 331.0L322.4 324.3L323.0 352.7L323.0 321.7L323.2 320.0L323.5 318.4L323.8 316.9L324.0 315.4L324.2 314.0L324.5 312.6L324.8 311.3L325.0 310.0L325.2 308.8L325.5 307.7L325.8 306.6L326.0 305.5L326.2 304.5L326.5 303.6L326.8 302.8L327.0 301.9L327.2 301.2L327.5 300.5L327.8 299.9L328.0 299.4L328.2 298.9L328.5 298.5L328.8 298.1L329.0 297.9L329.2 297.7L329.5 297.6L329.8 297.7L330.0 297.7L330.2 297.8L330.5 297.9L330.8 298.1L331.0 298.4L331.2 298.7L331.5 299.1L331.8 299.5L332.0 300.0L332.2 300.6L332.5 301.2L332.8 301.9L333.0 302.7L333.2 303.6L333.5 304.5L333.8 305.5L334.0 306.6L334.2 307.7L334.5 309.0L334.8 310.3L335.0 311.7L335.2 313.1L335.5 314.7L335.8 316.3L336.0 318.1L336.2 319.9L336.5 321.8L336.8 323.8L337.0 325.8L337.2 328.0L337.5 330.2L337.6 331.2L337.8 329.9L338.0 327.8L338.2 325.7L338.5 323.7L338.8 321.7L339.0 319.8L339.2 317.9L339.5 316.1L339.8 314.3L340.0 312.6L340.2 310.9L340.5 309.3L340.8 307.7L341.0 306.2L341.2 304.7L341.5 303.2L341.8 301.8L342.0 300.4L342.2 299.1L342.5 297.9L342.8 296.6L343.0 295.4L343.2 294.3L343.5 293.2L343.8 292.1L344.0 291.1L344.2 290.2L344.5 289.2L344.8 288.3L345.0 287.5L345.2 286.7L345.5 285.9L345.8 285.2L346.0 284.5L346.2 283.9L346.5 283.2L346.8 282.7L347.0 282.1L347.2 281.6L347.5 281.2L347.8 280.7L348.0 280.3L348.2 280.0L348.5 279.7L348.8 279.4L349.0 279.1L349.2 278.9L349.5 278.7L349.8 278.5L350.0 278.4L350.2 278.3L350.5 278.2L350.8 278.1L351.0 278.1L351.2 278.1L351.4 278.1L351.5 278.1L351.8 278.1L352.0 278.2L352.2 278.4L352.5 278.7L352.8 279.1L353.0 279.6L353.2 280.2L353.5 280.9L353.8 281.7L354.0 282.6L354.2 283.6L354.5 284.8L354.8 286.0L355.0 287.4L355.2 289.0L355.5 290.6L355.8 292.4L356.0 294.3L356.2 296.4L356.5 298.5L356.8 300.9L357.0 303.3L357.2 306.0L357.5 308.7L357.8 311.6L358.0 314.6L358.2 317.8L358.5 321.2L358.6 322.6L358.8 320.4L359.0 317.0L359.2 313.6L359.5 310.3L359.8 307.1L360.0 303.9L360.2 300.8L360.5 297.9L360.8 294.9L361.0 292.1L361.2 289.4L361.5 286.7L361.8 284.1L362.0 281.6L362.2 279.1L362.5 276.8L362.8 274.5L363.0 272.3L363.2 270.1L363.5 268.0L363.8 266.0L364.0 264.1L364.2 262.3L364.5 260.5L364.8 258.8L365.0 257.1L365.2 255.6L365.5 254.0L365.8 252.6L366.0 251.2L366.2 250.0L366.5 248.7L366.8 247.6L367.0 246.5L367.2 245.4L367.5 244.4L367.8 243.5L368.0 242.7L368.2 241.9L368.5 241.2L368.8 240.5L369.0 239.9L369.2 239.3L369.5 238.8L369.8 238.4L370.0 238.0L370.2 237.7L370.5 237.4L370.8 237.1L371.0 236.9L371.2 236.8L371.5 236.7L371.8 236.6L372.0 236.6L372.2 236.6L372.2 236.6L372.5 236.6L372.8 236.8L373.0 237.0L373.2 237.4L373.5 237.9L373.8 238.5L374.0 239.3L374.2 240.3L374.5 241.4L374.8 242.6L375.0 244.0L375.2 245.6L375.5 247.4L375.8 249.3L376.0 251.4L376.2 253.7L376.5 256.2L376.8 258.8L377.0 261.7L377.2 264.7L377.5 268.0L377.8 271.4L378.0 275.0L378.2 278.9L378.5 282.9L378.8 287.1L379.0 291.6L379.2 296.2L379.4 299.1L379.5 297.0L379.8 291.7L380.0 286.5L380.2 281.5L380.5 276.6L380.8 271.9L381.0 267.3L381.2 262.9L381.5 258.6L381.8 254.4L382.0 250.4L382.2 246.6L382.5 242.8L382.8 239.2L383.0 235.8L383.2 232.5L383.5 229.3L383.8 226.2L384.0 223.3L384.2 220.5L384.5 217.9L384.8 215.3L385.0 212.9L385.2 210.7L385.5 208.5L385.8 206.5L386.0 204.6L386.2 202.8L386.5 201.1L386.8 199.6L387.0 198.1L387.2 196.8L387.5 195.6L387.8 194.5L388.0 193.5L388.2 192.6L388.5 191.8L388.8 191.1L389.0 190.6L389.2 190.1L389.5 189.7L389.8 189.3L390.0 189.1L390.2 188.9L390.5 188.9L390.8 188.8L390.8 188.8L391.0 188.8L391.2 188.9L391.5 189.0L391.8 189.3L392.0 189.6L392.2 190.0L392.5 190.4L392.8 191.0L393.0 191.7L393.2 192.5L393.5 193.4L393.8 194.4L394.0 195.6L394.2 196.8L394.5 198.2L394.8 199.6L395.0 201.2L395.2 203.0L395.5 204.8L395.8 206.8L396.0 208.9L396.2 211.1L396.5 213.5L396.8 216.0L397.0 218.6L397.2 221.4L397.5 224.3L397.8 227.3L398.0 230.5L398.2 233.9L398.5 237.3L398.8 241.0L399.0 244.7L399.2 248.6L399.5 252.7L399.8 256.9L400.0 261.2L400.2 265.7L400.5 270.4L400.8 275.2L401.0 280.2L401.2 274.5L401.5 269.0L401.8 263.7L402.0 258.6L402.2 253.7L402.5 248.9L402.8 244.3L403.0 239.9L403.2 235.7L403.5 231.6L403.8 227.7L404.0 224.0L404.2 220.4L404.5 217.0L404.8 213.8L405.0 210.7L405.2 207.8L405.5 205.1L405.8 202.5L406.0 200.0L406.2 197.8L406.5 195.6L406.8 193.7L407.0 191.8L407.2 190.1L407.5 188.6L407.8 187.2L408.0 185.9L408.2 184.8L408.5 183.8L408.8 182.9L409.0 182.1L409.2 181.5L409.5 181.0L409.8 180.6L410.0 180.3L410.2 180.1L410.5 180.0L410.8 179.9L410.8 179.9L411.0 179.9L411.2 180.0L411.5 180.2L411.8 180.4L412.0 180.8L412.2 181.3L412.5 181.8L412.8 182.5L413.0 183.3L413.2 184.2L413.5 185.3L413.8 186.5L414.0 187.8L414.2 189.2L414.5 190.8L414.8 192.5L415.0 194.4L415.2 196.4L415.5 198.6L415.8 200.9L416.0 203.3L416.2 205.9L416.5 208.7L416.8 211.6L417.0 214.7L417.2 217.9L417.5 221.3L417.8 224.9L418.0 228.6L418.2 232.5L418.5 236.6L418.8 240.8L419.0 245.2L419.2 249.7L419.5 254.5L419.8 259.4L420.0 264.4L420.2 259.1L420.5 254.0L420.8 249.1L421.0 244.4L421.2 239.9L421.5 235.6L421.8 231.5L422.0 227.6L422.2 223.9L422.5 220.4L422.8 217.1L423.0 214.1L423.2 211.2L423.5 208.4L423.8 205.9L424.0 203.6L424.2 201.4L424.5 199.4L424.8 197.6L425.0 196.0L425.2 194.5L425.5 193.2L425.8 192.0L426.0 191.0L426.2 190.2L426.5 189.5L426.8 188.9L427.0 188.5L427.2 188.2L427.5 188.0L427.8 187.9L427.9 187.9L428.0 187.9L428.2 188.0L428.5 188.1L428.8 188.3L429.0 188.6L429.2 189.0L429.5 189.4L429.8 190.0L430.0 190.7L430.2 191.5L430.5 192.4L430.8 193.4L431.0 194.5L431.2 195.8L431.5 197.2L431.8 198.7L432.0 200.3L432.2 202.1L432.5 204.0L432.8 206.0L433.0 208.2L433.2 210.5L433.5 213.0L433.8 215.5L434.0 218.3L434.2 221.1L434.5 224.1L434.8 227.3L435.0 230.6L435.2 234.1L435.5 237.7L435.8 241.4L436.0 245.3L436.2 249.4L436.5 253.6L436.8 258.0L437.0 262.5L437.2 267.2L437.5 272.0L437.8 277.1L437.8 278.1L438.0 273.6L438.2 268.3L438.5 263.2L438.8 258.2L439.0 253.6L439.2 249.1L439.5 244.8L439.8 240.7L440.0 236.9L440.2 233.2L440.5 229.8L440.8 226.6L441.0 223.5L441.2 220.7L441.5 218.0L441.8 215.6L442.0 213.3L442.2 211.2L442.5 209.3L442.8 207.5L443.0 206.0L443.2 204.6L443.5 203.4L443.8 202.3L444.0 201.4L444.2 200.7L444.5 200.0L444.8 199.6L445.0 199.2L445.2 199.0L445.5 198.9L445.7 198.9L445.8 198.9L446.0 199.3L446.2 199.8L446.5 200.6L446.8 201.5L447.0 202.6L447.2 203.8L447.5 205.1L447.8 206.6L448.0 208.1L448.2 209.7L448.5 211.5L448.8 213.3L449.0 215.3L449.2 217.3L449.5 219.4L449.8 221.6L450.0 223.9L450.2 226.3L450.5 228.7L450.8 231.2L451.0 233.8L451.2 236.5L451.5 239.3L451.8 242.1L452.0 245.0L452.2 247.9L452.5 251.0L452.8 254.1L453.0 257.2L453.2 260.4L453.5 263.7L453.8 267.1L454.0 270.5L454.2 274.0L454.5 277.5L454.8 281.1L455.0 284.8L455.2 288.5L455.5 292.3L455.8 296.2L456.0 300.1L456.2 304.0L456.5 308.0L456.8 312.1L457.0 316.2L457.2 320.4L457.5 324.6L457.8 369.1L457.8 378.0L457.9 392.0L458.5 350.1L459.0 392.0L459.6 340.4L460.2 392.0L460.7 351.1L461.3 365.9L461.8 361.8L462.4 392.0L463.0 371.1L463.5 392.0L464.1 384.4L464.6 392.0L465.2 346.4L465.8 392.0L466.3 336.2L466.9 332.0L467.4 336.9L468.0 344.0L468.6 334.7L469.1 340.0L469.7 359.2L470.2 329.5L470.8 354.6L471.4 392.0L471.9 332.2L472.5 392.0L473.0 360.1L473.6 353.2L474.2 349.5L474.7 392.0L475.3 392.0L475.8 392.0L476.4 392.0L477.0 378.8L477.5 346.2L478.1 344.9L478.6 382.2L479.2 334.9L479.8 333.2L480.3 367.4L480.9 367.8L481.4 392.0L482.0 336.5L482.6 387.8L483.1 375.6L483.7 392.0L484.2 334.7L484.8 392.0L485.4 347.0L485.9 380.2L486.5 392.0L487.0 392.0L487.6 335.1L488.2 392.0L488.7 336.4L489.3 392.0L489.8 338.5L490.4 392.0L491.0 392.0L491.5 384.1L492.1 362.0L492.6 360.6L493.2 392.0L493.8 392.0L494.3 338.7L494.9 325.2L495.4 348.2L496.0 392.0L496.6 379.8L497.1 392.0L497.7 327.2L498.2 392.0L498.8 329.8L499.4 339.6L499.9 335.4L500.5 362.4L501.0 383.7L501.6 392.0L502.2 332.1L502.7 341.3L503.3 342.2L503.8 366.4L504.4 326.5L505.0 392.0L505.5 333.1L506.1 364.7L506.6 360.8L507.2 392.0L507.8 347.0L508.3 392.0L508.9 333.0L509.4 392.0L510.0 343.6L510.6 389.9L511.1 392.0L511.7 354.2L512.2 384.2L512.8 343.8L513.4 380.2L513.9 392.0L514.5 332.0L515.0 392.0L515.6 392.0L516.2 392.0L516.7 362.3L517.3 392.0L517.8 350.4L518.4 392.0L519.0 345.1L519.5 392.0L520.1 351.5L520.6 344.3L521.2 392.0L521.8 392.0L522.3 349.8L522.9 348.9L523.4 392.0L524.0 369.3L524.6 363.1L525.1 338.5L525.7 334.0L526.2 383.5L526.8 364.7L527.4 346.9L527.9 367.3L528.5 324.5L529.0 343.0L529.6 336.2L530.2 363.5L530.7 392.0L531.3 365.0L531.8 377.5L532.4 392.0L533.0 387.0L533.5 358.0L534.1 375.5L534.6 392.0L535.2 364.8L535.8 331.9L536.3 392.0L536.9 328.2L537.4 392.0L538.0 352.9L538.6 392.0L539.1 370.6L539.7 365.0L540.2 332.1L540.8 378.4L541.4 355.3L541.9 392.0L542.5 392.0L543.0 392.0L543.6 345.8L544.2 388.4L544.7 392.0L545.3 337.3L545.8 388.1L546.4 392.0L547.0 352.4L547.5 381.8L548.1 392.0L548.6 339.9L549.2 337.1L549.8 392.0L550.3 392.0L550.9 363.5L551.4 360.3L552.0 375.1L552.6 368.4L553.1 364.8L553.7 343.7L554.2 387.9L554.8 392.0L555.4 331.7L555.9 352.4L556.5 392.0L557.0 377.7L557.6 344.0L558.2 360.2L558.7 368.4L559.3 328.8L559.8 391.6L560.4 340.0L561.0 392.0L561.5 373.7L562.1 392.0L562.6 348.3L563.2 368.1L563.8 392.0L564.3 392.0L564.9 335.7L565.4 361.4L566.0 379.4L566.6 351.7L567.1 392.0L567.7 391.4L568.2 329.3L568.8 392.0L569.4 355.4L569.9 392.0L570.5 349.1L571.0 350.2L571.6 378.5L572.2 392.0L572.7 330.1L573.3 355.7L573.8 367.8L574.4 392.0L575.0 347.0L575.5 392.0L576.1 358.1L576.6 392.0L577.2 355.8L577.8 359.2L578.3 392.0L578.9 369.3L579.4 385.5L580.0 355.4L580.6 331.7L581.1 349.1L581.7 378.8L582.2 392.0L582.8 376.8L583.4 392.0L583.9 392.0L584.5 392.0L585.0 345.3L585.6 355.9L586.2 392.0L586.7 350.7L587.3 330.2L587.8 392.0L588.4 356.5L589.0 344.4L589.5 357.8L590.1 348.3L590.6 333.6L591.2 344.3L591.8 320.5L592.3 346.2L592.9 346.3L593.4 349.5L594.0 373.2L594.6 392.0L595.1 362.6L595.7 392.0L596.2 389.3L596.8 392.0L597.4 372.8L597.9 392.0L598.5 353.5L599.0 392.0L599.6 392.0L600.2 346.6L600.7 387.0L601.3 391.8L601.8 392.0L602.4 361.0L603.0 389.4L603.5 392.0L604.1 392.0L604.6 388.9L605.2 361.3L605.8 392.0L606.3 349.2L606.9 392.0L607.4 343.9L608.0 384.5L608.6 392.0L609.1 392.0L609.7 351.2L610.2 388.7L610.8 392.0L611.4 392.0L611.9 392.0L612.5 392.0L613.0 353.4L613.6 386.7L614.2 364.7L614.7 392.0L615.3 327.7L615.8 380.3L616.4 387.4L617.0 357.9L617.5 332.8L618.1 363.3L618.6 344.8L619.2 348.0L619.8 335.2L620.3 372.7L620.9 340.0L621.4 392.0L622.0 330.9L622.6 392.0L623.1 362.9L623.7 392.0L624.2 392.0L624.8 372.0L625.4 354.9L625.9 392.0L626.5 358.7L627.0 359.5L627.6 369.0L628.2 392.0L628.7 392.0L629.3 362.9L629.8 341.2L630.4 392.0L631.0 336.9L631.5 326.7L632.1 336.6L632.6 357.9L633.2 371.0L633.8 369.3L634.3 358.9L634.9 350.4L635.4 339.7L636.0 392.0L636.6 353.6L637.1 392.0L637.7 330.1L638.2 346.5L638.8 392.0L639.4 392.0L639.9 351.0L640.5 392.0L641.0 349.4L641.6 392.0L642.2 365.0L642.7 341.9L643.3 344.0L643.8 392.0L644.4 347.5L645.0 368.5L645.5 392.0L646.1 358.0L646.6 357.4L647.2 327.6L647.8 372.4" stroke="#17becf" stroke-width="1.6" fill="none" stroke-linejoin="round" stroke-linecap="round"/><path d="M90.0 333.1L90.6 350.9L91.1 340.4L91.7 392.0L92.2 331.5L92.8 392.0L93.4 339.8L93.9 392.0L94.5 337.4L95.0 392.0L95.6 363.7L96.2 392.0L96.7 345.2L97.3 392.0L97.8 392.0L98.4 373.3L99.0 335.5L99.5 392.0L100.1 331.2L100.6 392.0L101.2 341.1L101.8 368.5L102.3 335.0L102.9 392.0L103.4 387.5L104.0 386.5L104.6 375.5L105.1 392.0L105.7 358.3L106.2 392.0L106.8 336.5L107.4 391.9L107.9 325.6L108.5 392.0L109.0 335.6L109.6 391.7L110.2 334.2L110.7 386.6L111.3 326.7L111.8 392.0L112.4 363.6L113.0 392.0L113.5 371.7L114.1 392.0L114.6 370.0L115.2 392.0L115.8 392.0L116.3 342.2L116.9 368.4L117.4 392.0L118.0 332.1L118.6 392.0L119.1 383.1L119.7 392.0L120.2 342.1L120.8 392.0L121.4 350.4L121.9 392.0L122.5 392.0L123.0 392.0L123.6 392.0L124.2 388.5L124.7 332.6L125.3 392.0L125.8 392.0L126.4 392.0L127.0 388.4L127.5 392.0L128.1 341.6L128.6 375.3L129.2 337.7L129.8 392.0L130.3 336.1L130.9 347.9L131.4 392.0L132.0 392.0L132.6 334.3L133.1 392.0L133.7 337.7L134.2 338.3L134.8 360.9L135.4 392.0L135.9 366.2L136.5 392.0L137.0 344.2L137.6 383.4L138.2 366.9L138.7 392.0L139.3 329.0L139.8 375.8L140.4 334.5L141.0 392.0L141.5 345.1L142.1 392.0L142.6 329.9L143.2 392.0L143.8 349.1L144.3 388.9L144.9 330.4L145.4 392.0L146.0 343.9L146.6 392.0L147.1 343.3L147.7 392.0L148.2 392.0L148.8 392.0L149.4 332.7L149.9 392.0L150.5 354.4L151.0 392.0L151.6 333.5L152.2 356.5L152.7 335.6L153.3 392.0L153.8 392.0L154.4 362.3L155.0 326.9L155.5 350.4L156.1 337.2L156.6 384.5L157.2 370.5L157.8 392.0L158.3 346.6L158.9 392.0L159.4 392.0L160.0 352.9L160.6 343.4L161.1 333.4L161.7 344.1L162.2 392.0L162.8 349.9L163.4 333.4L163.9 342.2L164.5 392.0L165.0 332.5L165.6 381.7L166.2 367.4L166.7 392.0L167.3 366.4L167.8 381.2L168.4 349.6L169.0 392.0L169.5 392.0L170.1 354.5L170.6 337.8L171.2 373.2L171.8 345.0L172.3 392.0L172.9 338.2L173.4 392.0L174.0 336.9L174.6 371.8L175.1 392.0L175.7 392.0L176.2 392.0L176.8 334.8L177.4 329.5L177.9 389.2L178.5 335.8L179.0 350.1L179.6 332.6L180.2 392.0L180.7 342.4L181.3 392.0L181.8 348.7L182.4 392.0L183.0 392.0L183.5 392.0L184.1 344.6L184.6 374.4L185.2 392.0L185.8 392.0L186.3 340.3L186.9 392.0L187.4 392.0L188.0 385.5L188.6 332.2L189.1 392.0L189.7 348.7L190.2 392.0L190.8 392.0L191.4 392.0L191.9 340.4L192.5 392.0L193.0 341.1L193.6 382.8L194.2 359.1L194.7 392.0L195.3 392.0L195.8 390.8L196.4 361.7L197.0 392.0L197.5 366.0L198.1 392.0L198.6 326.6L199.2 392.0L199.8 375.3L200.3 355.9L200.9 354.8L201.4 392.0L202.0 392.0L202.6 392.0L203.1 360.0L203.7 372.3L204.2 335.2L204.8 376.9L205.4 392.0L205.9 392.0L206.5 327.0L207.0 334.6L207.6 351.8L208.2 392.0L208.7 338.0L209.3 392.0L209.8 340.0L210.4 392.0L211.0 350.5L211.5 392.0L212.1 330.5L212.6 392.0L213.2 379.7L213.8 360.0L214.3 332.6L214.9 392.0L215.4 352.7L216.0 392.0L216.6 392.0L217.1 392.0L217.7 331.1L218.2 392.0L218.8 376.2L219.4 341.6L219.9 354.3L220.5 354.8L221.0 369.9L221.6 353.2L222.2 392.0L222.7 392.0L223.3 339.7L223.8 392.0L224.4 335.5L225.0 392.0L225.5 366.1L226.1 392.0L226.6 366.8L227.2 387.1L227.8 343.9L228.3 379.6L228.9 385.1L229.4 380.4L230.0 351.4L230.6 392.0L231.1 367.0L231.7 392.0L232.2 340.1L232.8 392.0L233.4 332.7L233.9 347.6L234.5 340.4L235.0 392.0L235.6 335.0L236.2 392.0L236.7 331.7L237.3 392.0L237.8 344.1L238.4 347.2L239.0 359.1L239.5 386.2L240.1 375.0L240.6 392.0L241.2 365.1L241.8 392.0L242.3 330.7L242.9 392.0L243.4 328.2L244.0 374.7L244.6 341.6L245.1 392.0L245.7 362.3L246.2 392.0L246.8 352.1L247.4 392.0L247.9 373.9L248.5 381.7L249.0 329.3L249.6 336.8L250.2 340.2L250.7 392.0L251.3 337.9L251.8 392.0L252.4 339.9L253.0 392.0L253.5 392.0L254.1 392.0L254.6 337.3L255.2 392.0L255.8 331.7L256.3 392.0L256.9 338.0L257.4 392.0L258.0 341.6L258.6 392.0L259.1 355.4L259.7 392.0L260.2 342.8L260.8 339.9L261.4 337.1L261.9 392.0L262.5 346.8L263.0 392.0L263.6 354.7L264.2 392.0L264.7 337.2L265.3 392.0L265.8 367.4L266.4 392.0L267.0 327.8L267.5 392.0L268.1 392.0L268.6 392.0L269.2 392.0L269.8 341.3L270.3 343.5L270.9 392.0L271.4 331.7L272.0 392.0L272.6 343.1L273.1 392.0L273.7 381.9L274.2 345.4L274.8 336.2L275.4 392.0L275.9 339.0L276.5 392.0L277.0 367.0L277.6 392.0L278.2 392.0L278.7 392.0L279.3 336.8L279.8 392.0L280.4 323.5L281.0 392.0L281.5 327.8L282.1 390.6L282.6 359.8L283.2 392.0L283.8 392.0L284.3 392.0L284.9 392.0L285.4 392.0L286.0 341.4L286.6 339.4L287.1 336.6L287.7 345.8L288.2 348.4L288.8 380.9L289.4 336.7L289.9 392.0L290.5 330.1L291.0 392.0L291.6 366.6L292.2 382.8L292.7 333.0L293.3 371.4L293.8 391.9L294.4 392.0L295.0 338.8L295.5 392.0L296.1 339.2L296.6 392.0L297.2 352.7L297.8 389.4L298.3 336.5L298.9 392.0L299.4 370.6L300.0 392.0L300.6 357.2L301.1 382.7L301.7 359.0L302.2 353.9L302.8 328.6L303.4 381.2L303.9 338.1L304.5 369.0L305.0 333.7L305.6 334.5L306.2 327.4L306.7 366.6L307.3 333.1L307.8 351.8L308.4 332.7L309.0 337.3L309.5 328.3L310.1 327.4L310.6 325.5L311.2 333.3L311.8 325.7L312.3 331.0L312.9 329.0L313.4 331.8L314.0 323.4L314.6 339.2L315.1 327.3L315.7 326.9L316.2 330.0L316.8 324.5L317.4 328.4L317.9 344.2L318.5 359.9L319.0 334.0L319.6 331.5L320.2 323.3L320.7 336.8L321.3 325.0L321.8 337.1L322.4 327.0L323.0 328.8L323.5 323.8L324.1 321.7L324.5 321.7L324.8 320.2L325.0 318.8L325.2 317.4L325.5 316.1L325.8 314.8L326.0 313.5L326.2 312.3L326.5 311.2L326.8 310.1L327.0 309.0L327.2 308.0L327.5 307.0L327.8 306.1L328.0 305.3L328.2 304.5L328.5 303.7L328.8 303.0L329.0 302.3L329.2 301.7L329.5 301.2L329.8 300.7L330.0 300.3L330.2 299.9L330.5 299.6L330.8 299.4L331.0 299.2L331.2 299.1L331.3 299.1L331.5 299.1L331.8 299.2L332.0 299.3L332.2 299.4L332.5 299.6L332.8 299.9L333.0 300.2L333.2 300.6L333.5 301.0L333.8 301.5L334.0 302.1L334.2 302.8L334.5 303.5L334.8 304.3L335.0 305.2L335.2 306.2L335.5 307.2L335.8 308.3L336.0 309.5L336.2 310.8L336.5 312.2L336.8 313.6L337.0 315.2L337.2 316.8L337.5 318.5L337.8 320.3L338.0 322.2L338.2 324.2L338.5 326.2L338.8 328.4L339.0 330.7L339.2 333.0L339.5 335.5L339.8 338.0L340.0 340.6L340.2 337.2L340.5 333.8L340.8 330.5L341.0 327.4L341.2 324.3L341.5 321.3L341.8 318.5L342.0 315.7L342.2 313.0L342.5 310.5L342.8 308.0L343.0 305.6L343.2 303.4L343.5 301.2L343.8 299.1L344.0 297.1L344.2 295.2L344.5 293.4L344.8 291.7L345.0 290.0L345.2 288.5L345.5 287.0L345.8 285.7L346.0 284.4L346.2 283.2L346.5 282.1L346.8 281.0L347.0 280.1L347.2 279.2L347.5 278.4L347.8 277.7L348.0 277.0L348.2 276.5L348.5 276.0L348.8 275.5L349.0 275.2L349.2 274.9L349.5 274.6L349.8 274.4L350.0 274.3L350.2 274.3L350.5 274.2L350.6 274.2L350.8 274.2L351.0 274.3L351.2 274.3L351.5 274.4L351.8 274.6L352.0 274.8L352.2 275.0L352.5 275.3L352.8 275.7L353.0 276.1L353.2 276.5L353.5 277.0L353.8 277.6L354.0 278.3L354.2 279.0L354.5 279.7L354.8 280.6L355.0 281.4L355.2 282.4L355.5 283.4L355.8 284.5L356.0 285.7L356.2 286.9L356.5 288.2L356.8 289.6L357.0 291.0L357.2 292.5L357.5 294.1L357.8 295.8L358.0 297.5L358.2 299.3L358.5 301.2L358.8 303.1L359.0 305.2L359.2 307.3L359.5 309.5L359.8 311.7L360.0 314.1L360.2 316.5L360.5 319.0L360.7 321.1L360.8 320.1L361.0 315.1L361.2 310.2L361.5 305.6L361.8 301.0L362.0 296.6L362.2 292.3L362.5 288.2L362.8 284.2L363.0 280.4L363.2 276.7L363.5 273.1L363.8 269.7L364.0 266.4L364.2 263.2L364.5 260.2L364.8 257.2L365.0 254.5L365.2 251.8L365.5 249.3L365.8 246.9L366.0 244.6L366.2 242.5L366.5 240.5L366.8 238.5L367.0 236.8L367.2 235.1L367.5 233.5L367.8 232.1L368.0 230.8L368.2 229.6L368.5 228.4L368.8 227.4L369.0 226.5L369.2 225.7L369.5 225.1L369.8 224.4L370.0 223.9L370.2 223.5L370.5 223.2L370.8 222.9L371.0 222.8L371.2 222.7L371.5 222.6L371.6 222.6L371.8 222.6L372.0 222.7L372.2 222.8L372.5 223.1L372.8 223.4L373.0 223.9L373.2 224.4L373.5 225.1L373.8 225.9L374.0 226.8L374.2 227.8L374.5 229.0L374.8 230.3L375.0 231.7L375.2 233.3L375.5 235.0L375.8 236.8L376.0 238.8L376.2 241.0L376.5 243.3L376.8 245.7L377.0 248.3L377.2 251.1L377.5 254.0L377.8 257.0L378.0 260.3L378.2 263.6L378.5 267.2L378.8 270.9L379.0 274.8L379.2 278.8L379.5 283.1L379.8 287.5L380.0 292.0L380.2 286.5L380.5 281.1L380.8 275.9L381.0 270.8L381.2 266.0L381.5 261.2L381.8 256.7L382.0 252.3L382.2 248.1L382.5 244.0L382.8 240.1L383.0 236.3L383.2 232.7L383.5 229.3L383.8 226.0L384.0 222.8L384.2 219.9L384.5 217.0L384.8 214.3L385.0 211.8L385.2 209.3L385.5 207.1L385.8 205.0L386.0 203.0L386.2 201.1L386.5 199.4L386.8 197.8L387.0 196.3L387.2 195.0L387.5 193.8L387.8 192.7L388.0 191.8L388.2 190.9L388.5 190.2L388.8 189.6L389.0 189.1L389.2 188.7L389.5 188.4L389.8 188.1L390.0 188.0L390.2 187.9L390.4 187.9L390.5 187.9L390.8 188.0L391.0 188.1L391.2 188.3L391.5 188.6L391.8 188.9L392.0 189.4L392.2 189.9L392.5 190.6L392.8 191.4L393.0 192.2L393.2 193.2L393.5 194.3L393.8 195.5L394.0 196.9L394.2 198.3L394.5 199.9L394.8 201.6L395.0 203.5L395.2 205.4L395.5 207.5L395.8 209.7L396.0 212.1L396.2 214.6L396.5 217.2L396.8 220.0L397.0 222.9L397.2 226.0L397.5 229.1L397.8 232.5L398.0 236.0L398.2 239.6L398.5 243.4L398.8 247.3L399.0 251.4L399.2 255.6L399.5 260.0L399.8 264.5L400.0 269.2L400.2 274.0L400.5 279.0L400.7 283.1L400.8 281.9L401.0 275.8L401.2 270.0L401.5 264.3L401.8 258.8L402.0 253.6L402.2 248.5L402.5 243.6L402.8 238.9L403.0 234.4L403.2 230.1L403.5 225.9L403.8 222.0L404.0 218.2L404.2 214.6L404.5 211.2L404.8 207.9L405.0 204.9L405.2 202.0L405.5 199.2L405.8 196.7L406.0 194.3L406.2 192.1L406.5 190.0L406.8 188.1L407.0 186.4L407.2 184.8L407.5 183.3L407.8 182.0L408.0 180.9L408.2 179.9L408.5 179.0L408.8 178.2L409.0 177.6L409.2 177.1L409.5 176.8L409.8 176.5L410.0 176.3L410.2 176.3L410.4 176.3L410.5 176.3L410.8 176.3L411.0 176.4L411.2 176.6L411.5 176.8L411.8 177.1L412.0 177.5L412.2 178.0L412.5 178.6L412.8 179.2L413.0 180.0L413.2 180.9L413.5 181.8L413.8 182.9L414.0 184.1L414.2 185.3L414.5 186.7L414.8 188.2L415.0 189.8L415.2 191.5L415.5 193.4L415.8 195.3L416.0 197.4L416.2 199.6L416.5 201.9L416.8 204.3L417.0 206.8L417.2 209.5L417.5 212.3L417.8 215.2L418.0 218.2L418.2 221.4L418.5 224.7L418.8 228.2L419.0 231.7L419.2 235.4L419.5 239.2L419.8 243.2L420.0 247.3L420.2 251.5L420.5 255.9L420.8 260.4L421.0 265.0L421.2 259.9L421.5 255.0L421.8 250.2L422.0 245.7L422.2 241.3L422.5 237.1L422.8 233.1L423.0 229.2L423.2 225.6L423.5 222.1L423.8 218.8L424.0 215.6L424.2 212.7L424.5 209.9L424.8 207.3L425.0 204.8L425.2 202.5L425.5 200.3L425.8 198.3L426.0 196.5L426.2 194.8L426.5 193.3L426.8 191.9L427.0 190.7L427.2 189.6L427.5 188.6L427.8 187.8L428.0 187.1L428.2 186.5L428.5 186.0L428.8 185.7L429.0 185.5L429.2 185.3L429.5 185.3L429.6 185.3L429.8 185.3L430.0 185.4L430.2 185.5L430.5 185.8L430.8 186.2L431.0 186.7L431.2 187.3L431.5 188.1L431.8 189.0L432.0 190.0L432.2 191.2L432.5 192.5L432.8 194.0L433.0 195.6L433.2 197.4L433.5 199.4L433.8 201.5L434.0 203.8L434.2 206.3L434.5 208.9L434.8 211.7L435.0 214.7L435.2 217.8L435.5 221.1L435.8 224.6L436.0 228.3L436.2 232.2L436.5 236.3L436.8 240.5L437.0 245.0L437.2 249.6L437.5 254.4L437.8 259.5L438.0 264.7L438.2 270.1L438.5 275.7L438.8 271.1L439.0 266.8L439.2 262.6L439.5 258.5L439.8 254.7L440.0 250.9L440.2 247.4L440.5 244.0L440.8 240.8L441.0 237.8L441.2 234.9L441.5 232.2L441.8 229.6L442.0 227.2L442.2 224.9L442.5 222.8L442.8 220.8L443.0 219.0L443.2 217.3L443.5 215.8L443.8 214.4L444.0 213.2L444.2 212.0L444.5 211.0L444.8 210.2L445.0 209.4L445.2 208.8L445.5 208.3L445.8 207.9L446.0 207.6L446.2 207.4L446.5 207.2L446.8 207.2L446.8 207.2L447.0 207.4L447.2 207.8L447.5 208.4L447.8 209.1L448.0 209.9L448.2 210.9L448.5 212.0L448.8 213.1L449.0 214.4L449.2 215.8L449.5 217.2L449.8 218.7L450.0 220.3L450.2 222.0L450.5 223.7L450.8 225.6L451.0 227.5L451.2 229.4L451.5 231.4L451.8 233.5L452.0 235.7L452.2 237.9L452.5 240.2L452.8 242.6L453.0 245.0L453.2 247.4L453.5 250.0L453.8 252.5L454.0 255.2L454.2 257.9L454.5 260.6L454.8 263.4L455.0 266.3L455.2 269.2L455.5 272.1L455.8 275.1L456.0 278.2L456.2 281.3L456.5 284.5L456.8 287.7L457.0 290.9L457.2 294.3L457.5 297.6L457.8 301.0L458.0 304.5L458.2 308.0L458.5 311.5L458.8 315.1L459.0 318.7L459.2 322.4L459.3 323.1L459.5 323.4L459.8 323.7L460.0 324.0L460.2 324.3L460.5 324.6L460.8 324.9L461.0 325.2L461.2 325.5L461.5 325.8L461.8 326.1L461.8 326.1L461.8 371.0L462.4 392.0L463.0 329.6L463.5 392.0L464.1 379.4L464.6 392.0L465.2 392.0L465.8 369.5L466.3 336.6L466.9 390.0L467.4 335.6L468.0 392.0L468.6 333.1L469.1 392.0L469.7 340.8L470.2 392.0L470.8 340.8L471.4 335.2L471.9 352.4L472.5 371.6L473.0 336.8L473.6 392.0L474.2 340.3L474.7 392.0L475.3 345.0L475.8 392.0L476.4 331.3L477.0 390.1L477.5 332.5L478.1 343.9L478.6 338.8L479.2 392.0L479.8 392.0L480.3 348.8L480.9 369.3L481.4 392.0L482.0 352.7L482.6 359.8L483.1 336.2L483.7 347.1L484.2 341.6L484.8 392.0L485.4 357.3L485.9 392.0L486.5 332.7L487.0 392.0L487.6 392.0L488.2 392.0L488.7 377.0L489.3 392.0L489.8 385.7L490.4 392.0L491.0 334.7L491.5 367.9L492.1 346.5L492.6 392.0L493.2 392.0L493.8 392.0L494.3 392.0L494.9 392.0L495.4 392.0L496.0 392.0L496.6 339.1L497.1 376.2L497.7 333.2L498.2 392.0L498.8 356.1L499.4 344.1L499.9 331.4L500.5 335.3L501.0 338.0L501.6 372.8L502.2 334.8L502.7 370.6L503.3 335.4L503.8 330.5L504.4 334.3L505.0 392.0L505.5 363.2L506.1 392.0L506.6 333.2L507.2 392.0L507.8 370.3L508.3 338.2L508.9 372.0L509.4 370.1L510.0 392.0L510.6 392.0L511.1 369.4L511.7 392.0L512.2 335.6L512.8 392.0L513.4 337.5L513.9 392.0L514.5 332.3L515.0 392.0L515.6 343.5L516.2 392.0L516.7 359.9L517.3 356.8L517.8 360.6L518.4 351.5L519.0 342.8L519.5 392.0L520.1 369.3L520.6 365.1L521.2 372.0L521.8 392.0L522.3 337.7L522.9 391.2L523.4 344.8L524.0 380.9L524.6 375.9L525.1 392.0L525.7 389.0L526.2 382.7L526.8 358.8L527.4 392.0L527.9 336.0L528.5 392.0L529.0 336.3L529.6 392.0L530.2 367.2L530.7 337.1L531.3 350.9L531.8 392.0L532.4 347.1L533.0 359.6L533.5 333.3L534.1 387.4L534.6 333.6L535.2 392.0L535.8 333.7L536.3 392.0L536.9 342.4L537.4 392.0L538.0 392.0L538.6 392.0L539.1 367.5L539.7 392.0L540.2 330.5L540.8 353.1L541.4 333.2L541.9 392.0L542.5 392.0L543.0 392.0L543.6 342.5L544.2 391.9L544.7 330.2L545.3 392.0L545.8 376.0L546.4 392.0L547.0 358.4L547.5 392.0L548.1 354.2L548.6 392.0L549.2 377.1L549.8 392.0L550.3 363.0L550.9 392.0L551.4 351.5L552.0 392.0L552.6 337.0L553.1 382.3L553.7 339.9L554.2 392.0L554.8 332.6L555.4 392.0L555.9 340.3L556.5 392.0L557.0 392.0L557.6 392.0L558.2 327.4L558.7 392.0L559.3 359.2L559.8 376.9L560.4 343.0L561.0 392.0L561.5 366.4L562.1 392.0L562.6 333.2L563.2 392.0L563.8 392.0L564.3 392.0L564.9 366.6L565.4 392.0L566.0 340.2L566.6 392.0L567.1 392.0L567.7 369.3L568.2 391.7L568.8 392.0L569.4 344.4L569.9 392.0L570.5 336.5L571.0 392.0L571.6 371.2L572.2 392.0L572.7 353.6L573.3 392.0L573.8 345.8L574.4 392.0L575.0 335.4L575.5 392.0L576.1 371.2L576.6 392.0L577.2 355.9L577.8 392.0L578.3 335.1L578.9 348.8L579.4 334.1L580.0 338.8L580.6 337.4L581.1 392.0L581.7 334.3L582.2 392.0L582.8 337.6L583.4 392.0L583.9 392.0L584.5 392.0L585.0 338.8L585.6 385.0L586.2 392.0L586.7 342.2L587.3 351.0L587.8 355.8L588.4 368.2L589.0 383.0L589.5 392.0L590.1 392.0L590.6 380.5L591.2 392.0L591.8 329.9L592.3 392.0L592.9 333.3L593.4 349.2L594.0 392.0L594.6 392.0L595.1 333.7L595.7 392.0L596.2 375.3L596.8 392.0L597.4 333.0L597.9 392.0L598.5 347.5L599.0 392.0L599.6 362.7L600.2 385.7L600.7 365.8L601.3 384.6L601.8 392.0L602.4 374.5L603.0 339.3L603.5 350.4L604.1 359.6L604.6 348.0L605.2 332.8L605.8 392.0L606.3 337.2L606.9 380.3L607.4 335.9L608.0 392.0L608.6 382.0L609.1 392.0L609.7 352.6L610.2 392.0L610.8 341.1L611.4 392.0L611.9 368.3L612.5 327.6L613.0 337.8L613.6 392.0L614.2 327.7L614.7 392.0L615.3 384.5L615.8 366.9L616.4 378.2L617.0 392.0L617.5 365.3L618.1 392.0L618.6 332.8L619.2 386.4L619.8 347.3L620.3 338.7L620.9 332.4L621.4 392.0L622.0 329.2L622.6 392.0L623.1 331.3L623.7 362.5L624.2 337.4L624.8 375.1L625.4 334.0L625.9 392.0L626.5 392.0L627.0 340.0L627.6 340.9L628.2 392.0L628.7 344.1L629.3 392.0L629.8 333.9L630.4 392.0L631.0 337.0L631.5 389.8L632.1 357.5L632.6 392.0L633.2 346.7L633.8 385.1L634.3 334.2L634.9 392.0L635.4 389.2L636.0 359.6L636.6 392.0L637.1 381.1L637.7 347.0L638.2 392.0L638.8 356.5L639.4 392.0L639.9 337.9L640.5 364.3L641.0 338.7L641.6 392.0L642.2 335.3L642.7 392.0L643.3 331.8L643.8 392.0L644.4 336.1L645.0 392.0L645.5 341.0L646.1 392.0L646.6 337.2L647.2 373.2L647.8 370.2" stroke="#7f7f7f" stroke-width="1.6" fill="none" stroke-linejoin="round" stroke-linecap="round"/></g><rect x="90.5" y="52.5" width="558" height="326" fill="none" stroke="#cccccc" stroke-width="1"/><g fill="#262626" stroke="#262626" stroke-width="0.25"><text transform="translate(90.0 392.1) scale(0.88 1)" text-anchor="middle" font-size="15.0" stroke="#262626" stroke-width="0.35">840</text><text transform="translate(164.4 392.1) scale(0.88 1)" text-anchor="middle" font-size="15.0" stroke="#262626" stroke-width="0.35">842</text><text transform="translate(238.8 392.1) scale(0.88 1)" text-anchor="middle" font-size="15.0" stroke="#262626" stroke-width="0.35">844</text><text transform="translate(313.2 392.1) scale(0.88 1)" text-anchor="middle" font-size="15.0" stroke="#262626" stroke-width="0.35">846</text><text transform="translate(387.6 392.1) scale(0.88 1)" text-anchor="middle" font-size="15.0" stroke="#262626" stroke-width="0.35">848</text><text transform="translate(462.0 392.1) scale(0.88 1)" text-anchor="middle" font-size="15.0" stroke="#262626" stroke-width="0.35">850</text><text transform="translate(536.4 392.1) scale(0.88 1)" text-anchor="middle" font-size="15.0" stroke="#262626" stroke-width="0.35">852</text><text transform="translate(610.8 392.1) scale(0.88 1)" text-anchor="middle" font-size="15.0" stroke="#262626" stroke-width="0.35">854</text><text transform="translate(86.2 57.2) scale(0.88 1)" text-anchor="end" font-size="15.0" stroke="#262626" stroke-width="0.35">20</text><text transform="translate(86.2 116.5) scale(0.88 1)" text-anchor="end" font-size="15.0" stroke="#262626" stroke-width="0.35">0</text><text transform="translate(86.2 175.8) scale(0.88 1)" text-anchor="end" font-size="15.0" stroke="#262626" stroke-width="0.35">−20</text><text transform="translate(86.2 235.1) scale(0.88 1)" text-anchor="end" font-size="15.0" stroke="#262626" stroke-width="0.35">−40</text><text transform="translate(86.2 294.4) scale(0.88 1)" text-anchor="end" font-size="15.0" stroke="#262626" stroke-width="0.35">−60</text><text transform="translate(86.2 353.7) scale(0.88 1)" text-anchor="end" font-size="15.0" stroke="#262626" stroke-width="0.35">−80</text><text x="369" y="46" text-anchor="middle" font-size="17.3">D4449 V20263 Pre Burn-In</text><text x="368.3" y="412" text-anchor="middle" font-size="17.3">Wavelength [nm]</text><text x="0" y="0" transform="translate(53.6 215.35) rotate(-90)" text-anchor="middle" font-size="17.3">Optical Power [dB]</text></g><rect x="97.5" y="59.5" width="87" height="153" rx="2.8" fill="#fff" fill-opacity="0.8" stroke="#cccccc" stroke-opacity="0.8" stroke-width="1"/><path d="M102.5 71.00H132.5" stroke="#bcbd22" stroke-width="1.6" stroke-linecap="butt"/><text x="143" y="75.80" font-size="15" fill="#262626" stroke="#262626" stroke-width="0.2">Ch. 1</text><path d="M102.5 92.13H132.5" stroke="#ff7f0e" stroke-width="1.6" stroke-linecap="butt"/><text x="143" y="96.93" font-size="15" fill="#262626" stroke="#262626" stroke-width="0.2">Ch. 2</text><path d="M102.5 113.26H132.5" stroke="#d62728" stroke-width="1.6" stroke-linecap="butt"/><text x="143" y="118.06" font-size="15" fill="#262626" stroke="#262626" stroke-width="0.2">Ch. 3</text><path d="M102.5 134.39H132.5" stroke="#9467bd" stroke-width="1.6" stroke-linecap="butt"/><text x="143" y="139.19" font-size="15" fill="#262626" stroke="#262626" stroke-width="0.2">Ch. 4</text><path d="M102.5 155.52H132.5" stroke="#1f77b4" stroke-width="1.6" stroke-linecap="butt"/><text x="143" y="160.32" font-size="15" fill="#262626" stroke="#262626" stroke-width="0.2">Ch. 5</text><path d="M102.5 176.65H132.5" stroke="#17becf" stroke-width="1.6" stroke-linecap="butt"/><text x="143" y="181.45" font-size="15" fill="#262626" stroke="#262626" stroke-width="0.2">Ch. 6</text><path d="M102.5 197.78H132.5" stroke="#7f7f7f" stroke-width="1.6" stroke-linecap="butt"/><text x="143" y="202.58" font-size="15" fill="#262626" stroke="#262626" stroke-width="0.2">Ch. 7</text>
</svg></body></html>
